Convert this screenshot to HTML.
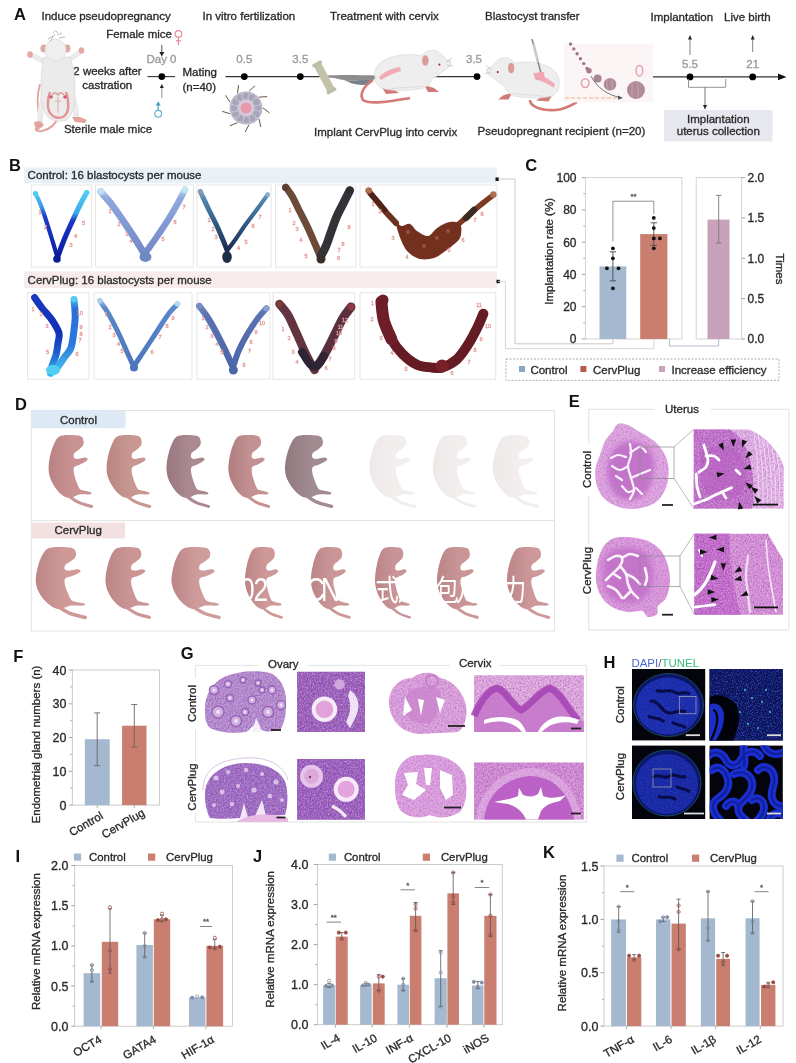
<!DOCTYPE html>
<html><head><meta charset="utf-8"><title>CervPlug figure</title>
<style>html,body{margin:0;padding:0;background:#fff;} svg{display:block;}</style>
</head><body>
<svg width="796" height="1063" viewBox="0 0 796 1063" font-family="'Liberation Sans', Arial, sans-serif">
<rect width="796" height="1063" fill="#fff"/>
<defs><filter id="spk" x="0" y="0" width="100%" height="100%" color-interpolation-filters="sRGB"><feTurbulence type="fractalNoise" baseFrequency="0.7" numOctaves="2" seed="4" result="n"/><feColorMatrix in="n" type="matrix" values="0 0 0 0 1  0 0 0 0 0.95  0 0 0 0 1  2.2 0 0 0 -1.0" result="w"/><feGaussianBlur stdDeviation="0.35"/><feComposite in2="SourceAlpha" operator="in"/></filter><filter id="spkd" x="0" y="0" width="100%" height="100%" color-interpolation-filters="sRGB"><feTurbulence type="fractalNoise" baseFrequency="0.6" numOctaves="2" seed="9" result="n"/><feColorMatrix in="n" type="matrix" values="0 0 0 0 0.4  0 0 0 0 0.1  0 0 0 0 0.5  2.2 0 0 0 -1.0" result="w"/><feGaussianBlur stdDeviation="0.35"/><feComposite in2="SourceAlpha" operator="in"/></filter><filter id="spkb" x="0" y="0" width="100%" height="100%" color-interpolation-filters="sRGB"><feTurbulence type="fractalNoise" baseFrequency="0.8" numOctaves="2" seed="7" result="n"/><feColorMatrix in="n" type="matrix" values="0 0 0 0 0.3  0 0 0 0 0.45  0 0 0 0 1  2.4 0 0 0 -1.1" result="w"/><feGaussianBlur stdDeviation="0.3"/><feComposite in2="SourceAlpha" operator="in"/></filter><filter id="blur1"><feGaussianBlur stdDeviation="0.6"/></filter><filter id="blur2" x="-20%" y="-20%" width="140%" height="140%"><feGaussianBlur stdDeviation="2.5"/></filter></defs>
<text x="14.0" y="19.6" font-size="16.5" text-anchor="start" fill="#111" font-weight="bold"  >A</text>
<text x="41.5" y="20.0" font-size="11.5" text-anchor="start" fill="#2a2a2a" font-weight="normal" stroke="#2a2a2a" stroke-width="0.32" >Induce pseudopregnancy</text>
<text x="202.5" y="20.0" font-size="11.5" text-anchor="start" fill="#2a2a2a" font-weight="normal" stroke="#2a2a2a" stroke-width="0.32" >In vitro fertilization</text>
<text x="330.0" y="20.0" font-size="11.5" text-anchor="start" fill="#2a2a2a" font-weight="normal" stroke="#2a2a2a" stroke-width="0.32" >Treatment with cervix</text>
<text x="485.0" y="20.0" font-size="11.5" text-anchor="start" fill="#2a2a2a" font-weight="normal" stroke="#2a2a2a" stroke-width="0.32" >Blastocyst transfer</text>
<text x="650.5" y="20.5" font-size="11.5" text-anchor="start" fill="#2a2a2a" font-weight="normal" stroke="#2a2a2a" stroke-width="0.32" >Implantation</text>
<text x="724.0" y="20.5" font-size="11.5" text-anchor="start" fill="#2a2a2a" font-weight="normal" stroke="#2a2a2a" stroke-width="0.32" >Live birth</text>
<text x="172.0" y="37.5" font-size="11.5" text-anchor="end" fill="#2a2a2a" font-weight="normal" stroke="#2a2a2a" stroke-width="0.32" >Female mice</text>
<circle cx="178.4" cy="33.9" r="3.3" fill="none" stroke="#e88c98" stroke-width="1.2" />
<line x1="178.4" y1="37.2" x2="178.4" y2="45.2" stroke="#e88c98" stroke-width="1.2" />
<line x1="175.8" y1="40.8" x2="181.0" y2="40.8" stroke="#e88c98" stroke-width="1.2" />
<line x1="161.8" y1="45.0" x2="161.8" y2="54.0" stroke="#444" stroke-width="0.9" />
<path d="M159.3,52 L161.8,56.5 L164.3,52 Z" fill="#222" stroke="none" stroke-width="1" />
<text x="161.5" y="63.0" font-size="11.5" text-anchor="middle" fill="#9a9a9a" font-weight="normal" stroke="#9a9a9a" stroke-width="0.32" >Day 0</text>
<text x="107.5" y="75.4" font-size="11.5" text-anchor="middle" fill="#2a2a2a" font-weight="normal" stroke="#2a2a2a" stroke-width="0.32" >2 weeks after</text>
<text x="107.3" y="89.2" font-size="11.5" text-anchor="middle" fill="#2a2a2a" font-weight="normal" stroke="#2a2a2a" stroke-width="0.32" >castration</text>
<line x1="147.5" y1="76.6" x2="175.0" y2="76.6" stroke="#333" stroke-width="1.1" />
<circle cx="161.8" cy="76.6" r="3.4" fill="#000" stroke="none" stroke-width="1" />
<line x1="161.8" y1="86.0" x2="161.8" y2="98.0" stroke="#888" stroke-width="0.9" />
<path d="M159.8,88 L161.8,84 L163.8,88 Z" fill="#222" stroke="none" stroke-width="1" />
<circle cx="158.2" cy="113.8" r="3.4" fill="none" stroke="#6aaed0" stroke-width="1.2" />
<line x1="158.2" y1="110.4" x2="158.2" y2="103.0" stroke="#5aa6c4" stroke-width="1.3" />
<path d="M155.7,105.5 L158.2,101.3 L160.7,105.5 Z" fill="#4a9cb8" stroke="none" stroke-width="1" />
<text x="182.5" y="76.0" font-size="11.5" text-anchor="start" fill="#2a2a2a" font-weight="normal" stroke="#2a2a2a" stroke-width="0.32" >Mating</text>
<text x="182.5" y="90.5" font-size="11.5" text-anchor="start" fill="#2a2a2a" font-weight="normal" stroke="#2a2a2a" stroke-width="0.32" >(n=40)</text>
<text x="108.0" y="133.2" font-size="11.5" text-anchor="middle" fill="#2a2a2a" font-weight="normal" stroke="#2a2a2a" stroke-width="0.32" >Sterile male mice</text>
<text x="314.0" y="135.5" font-size="11.5" text-anchor="start" fill="#2a2a2a" font-weight="normal" stroke="#2a2a2a" stroke-width="0.32" >Implant CervPlug into cervix</text>
<text x="477.5" y="134.5" font-size="11.5" text-anchor="start" fill="#2a2a2a" font-weight="normal" stroke="#2a2a2a" stroke-width="0.32" >Pseudopregnant recipient (n=20)</text>
<line x1="225.5" y1="76.6" x2="477.0" y2="76.6" stroke="#333" stroke-width="1.1" />
<circle cx="244.3" cy="76.6" r="3.4" fill="#000" stroke="none" stroke-width="1" />
<circle cx="300.3" cy="76.6" r="3.4" fill="#000" stroke="none" stroke-width="1" />
<text x="244.3" y="62.5" font-size="11.5" text-anchor="middle" fill="#9a9a9a" font-weight="normal" stroke="#9a9a9a" stroke-width="0.32" >0.5</text>
<text x="300.3" y="62.5" font-size="11.5" text-anchor="middle" fill="#9a9a9a" font-weight="normal" stroke="#9a9a9a" stroke-width="0.32" >3.5</text>
<circle cx="477.0" cy="76.6" r="3.4" fill="#000" stroke="none" stroke-width="1" />
<text x="474.0" y="62.5" font-size="11.5" text-anchor="middle" fill="#9a9a9a" font-weight="normal" stroke="#9a9a9a" stroke-width="0.32" >3.5</text>
<line x1="652.0" y1="76.9" x2="780.0" y2="76.9" stroke="#333" stroke-width="1.1" />
<path d="M778,73.6 L786.5,76.9 L778,80.2 Z" fill="#111" stroke="none" stroke-width="1" />
<circle cx="690.0" cy="76.9" r="3.4" fill="#000" stroke="none" stroke-width="1" />
<circle cx="752.7" cy="76.9" r="3.4" fill="#000" stroke="none" stroke-width="1" />
<text x="690.0" y="67.5" font-size="11.5" text-anchor="middle" fill="#9a9a9a" font-weight="normal" stroke="#9a9a9a" stroke-width="0.32" >5.5</text>
<text x="752.7" y="67.5" font-size="11.5" text-anchor="middle" fill="#9a9a9a" font-weight="normal" stroke="#9a9a9a" stroke-width="0.32" >21</text>
<line x1="690.0" y1="55.0" x2="690.0" y2="38.0" stroke="#777" stroke-width="0.9" />
<path d="M688,39.5 L690,35 L692,39.5 Z" fill="#222" stroke="none" stroke-width="1" />
<line x1="752.7" y1="52.0" x2="752.7" y2="38.0" stroke="#777" stroke-width="0.9" />
<path d="M750.7,39.5 L752.7,35 L754.7,39.5 Z" fill="#222" stroke="none" stroke-width="1" />
<path d="M688.5,79 L688.5,87.3 L725.7,87.3 L725.7,79" fill="none" stroke="#888" stroke-width="0.9" />
<line x1="705.0" y1="87.3" x2="705.0" y2="106.0" stroke="#666" stroke-width="0.9" />
<path d="M703,105 L705,109.5 L707,105 Z" fill="#222" stroke="none" stroke-width="1" />
<rect x="664.0" y="110.0" width="108.5" height="31.5" fill="#e7e7ef" stroke="none" stroke-width="1" />
<text x="718.3" y="122.7" font-size="11.5" text-anchor="middle" fill="#2a2a2a" font-weight="normal" stroke="#2a2a2a" stroke-width="0.32" >Implantation</text>
<text x="718.3" y="135.3" font-size="11.5" text-anchor="middle" fill="#2a2a2a" font-weight="normal" stroke="#2a2a2a" stroke-width="0.32" >uterus collection</text>
<path d="M40,84 C37,95 37,108 40,118 C42,124 40,128 36,131" fill="none" stroke="#e2a49e" stroke-width="1.8" />
<path d="M58,117 C56,124 50,129 42,131 C36,132 34,129 38,127" fill="none" stroke="#e2a49e" stroke-width="2.2" />
<path d="M44,96 C41,106 40,115 40,123" fill="none" stroke="#ebebeb" stroke-width="6" stroke-linecap="round"/>
<path d="M72,96 C75,104 76,110 76,116" fill="none" stroke="#ebebeb" stroke-width="6" stroke-linecap="round"/>
<path d="M34,122 L40,121 L44,125 L41,128 L35,127 Z" fill="#e2a49e" stroke="none" stroke-width="1" />
<path d="M72,117 L80,117 L87,120 L85,123 L75,122 Z" fill="#e2a49e" stroke="none" stroke-width="1" />
<path d="M45,62 C40,59 35,57 30.5,55" fill="none" stroke="#ebebeb" stroke-width="5.5" stroke-linecap="round"/>
<path d="M67,61 C72,58 77,54 80.5,51.5" fill="none" stroke="#ebebeb" stroke-width="5.5" stroke-linecap="round"/>
<ellipse cx="30" cy="54.5" rx="2.8" ry="3.2" fill="#e6a8a2"/>
<ellipse cx="81.5" cy="50.5" rx="2.8" ry="3.2" fill="#e6a8a2"/>
<path d="M44,57 C41,68 41,80 41,92 C41,104 44,114 50,119 C56,122 64,122 68,119 C73,114 75,104 75,92 C75,80 74,68 70,57 Z" fill="#ebebeb" stroke="#d4d4d4" stroke-width="0.6" />
<ellipse cx="43.8" cy="48.5" rx="3.4" ry="4" fill="#dcaaa2"/>
<ellipse cx="67" cy="48.5" rx="3.4" ry="4" fill="#dcaaa2"/>
<ellipse cx="55.5" cy="50" rx="10.5" ry="11" fill="#efefef" stroke="#d8d8d8" stroke-width="0.6"/>
<path d="M48,39 L53,36 M50,41 L55,34 M57,35 L62,33 M59,38 L65,37 M53,33 L55.5,30.5 L58,33" fill="none" stroke="#a8a8a8" stroke-width="0.8" />
<path d="M50,92 C47,100 47,110 51,114 C55,119 63,119 66,114 C69,110 69,100 66,92" fill="none" stroke="#e29494" stroke-width="2.4" />
<path d="M52,95 C54,92 56,92 58,95 C60,92 62,92 64,95" fill="none" stroke="#e29494" stroke-width="1.4" />
<path d="M58,97 L58,113 M55,101 L61,101" fill="none" stroke="#e3a8a8" stroke-width="1" />
<circle cx="51.0" cy="97.0" r="1.8" fill="#d25c6a" stroke="none" stroke-width="1" />
<circle cx="65.0" cy="97.0" r="1.8" fill="#d25c6a" stroke="none" stroke-width="1" />
<line x1="263.0" y1="108.0" x2="269.5" y2="113.0" stroke="#5a3a2a" stroke-width="0.9" />
<line x1="259.0" y1="118.9" x2="260.8" y2="126.9" stroke="#5a3a2a" stroke-width="0.9" />
<line x1="249.0" y1="124.7" x2="245.2" y2="132.0" stroke="#5a3a2a" stroke-width="0.9" />
<line x1="237.5" y1="122.7" x2="229.9" y2="125.8" stroke="#5a3a2a" stroke-width="0.9" />
<line x1="230.0" y1="113.8" x2="222.2" y2="111.3" stroke="#5a3a2a" stroke-width="0.9" />
<line x1="230.0" y1="102.2" x2="225.6" y2="95.3" stroke="#5a3a2a" stroke-width="0.9" />
<line x1="237.5" y1="93.3" x2="238.6" y2="85.2" stroke="#5a3a2a" stroke-width="0.9" />
<line x1="249.0" y1="91.3" x2="255.0" y2="85.7" stroke="#5a3a2a" stroke-width="0.9" />
<line x1="259.0" y1="97.1" x2="267.2" y2="96.7" stroke="#5a3a2a" stroke-width="0.9" />
<circle cx="246.0" cy="108.0" r="16.5" fill="#b4b1c4" stroke="none" stroke-width="1" />
<circle cx="258.0" cy="108.0" r="4.0" fill="#a8a4bc" stroke="#d8d6e2" stroke-width="0.6" />
<circle cx="256.4" cy="114.0" r="4.0" fill="#a8a4bc" stroke="#d8d6e2" stroke-width="0.6" />
<circle cx="252.0" cy="118.4" r="4.0" fill="#a8a4bc" stroke="#d8d6e2" stroke-width="0.6" />
<circle cx="246.0" cy="120.0" r="4.0" fill="#a8a4bc" stroke="#d8d6e2" stroke-width="0.6" />
<circle cx="240.0" cy="118.4" r="4.0" fill="#a8a4bc" stroke="#d8d6e2" stroke-width="0.6" />
<circle cx="235.6" cy="114.0" r="4.0" fill="#a8a4bc" stroke="#d8d6e2" stroke-width="0.6" />
<circle cx="234.0" cy="108.0" r="4.0" fill="#a8a4bc" stroke="#d8d6e2" stroke-width="0.6" />
<circle cx="235.6" cy="102.0" r="4.0" fill="#a8a4bc" stroke="#d8d6e2" stroke-width="0.6" />
<circle cx="240.0" cy="97.6" r="4.0" fill="#a8a4bc" stroke="#d8d6e2" stroke-width="0.6" />
<circle cx="246.0" cy="96.0" r="4.0" fill="#a8a4bc" stroke="#d8d6e2" stroke-width="0.6" />
<circle cx="252.0" cy="97.6" r="4.0" fill="#a8a4bc" stroke="#d8d6e2" stroke-width="0.6" />
<circle cx="256.4" cy="102.0" r="4.0" fill="#a8a4bc" stroke="#d8d6e2" stroke-width="0.6" />
<circle cx="246.0" cy="108.0" r="8.0" fill="#d9c8d8" stroke="none" stroke-width="1" />
<circle cx="246.0" cy="108.0" r="5.5" fill="#e79aae" stroke="none" stroke-width="1" />
<path d="M327,75.5 C340,74.5 360,75 376,75.5 L376,79 C365,80 352,81 344,80 C338,79 332,77.5 327,77 Z" fill="#8c8c8c" stroke="none" stroke-width="1" />
<path d="M344,80 C352,81 362,80 374,79 L370,84 C364,85.5 358,85 352,83.5 Z" fill="#7a8088" stroke="none" stroke-width="1" />
<g transform="translate(324.3,77.4) rotate(62)"><rect x="-15.6" y="-4" width="31.2" height="8" fill="#c3c3ab"/><rect x="-17" y="-5.2" width="3.5" height="10.4" rx="1.2" fill="#bdbda4"/><rect x="13.5" y="-5.2" width="3.5" height="10.4" rx="1.2" fill="#bdbda4"/></g>
<path d="M373,80 C364,86 359,94 363,100 C370,105 392,101 410,98" fill="none" stroke="#d27a78" stroke-width="2.6"/>
<path d="M381,86 L393,89 L399,93 L386,94 Z" fill="#d27a78"/>
<path d="M424,85 L434,88 L439,92 L428,92 Z" fill="#d27a78"/>
<path d="M375,78 C373,68 380,60 392,57 C402,54 414,54 421,56 C425,51 431,49 437,51 C443,55 447,60 451,64 C450,67 447,69 443,71 C440,74 436,77 432,79 C430,84 427,88 419,89 C405,91 389,91 381,88 C377,85 375,82 375,78 Z" fill="#eeeeee" stroke="#d8d8d8" stroke-width="0.7"/>
<path d="M390,89 C400,87 412,88 422,86" fill="none" stroke="#dcdcdc" stroke-width="1"/>
<ellipse cx="425.3" cy="60.5" rx="3.3" ry="5.2" fill="#dc9a98"/>
<circle cx="439.4" cy="64.6" r="1.1" fill="#9a3040"/>
<path d="M379,77 C384,72 392,68 400,67 L401,71 C394,73 387,76 381,80 Z" fill="#f2aab4"/>
<path d="M446,62 L452,58 M447,65 L453,66 M449,60 L451,63" stroke="#aaa" stroke-width="0.6"/>
<path d="M530,100 C530,106 540,111 556,110 C566,109 572,105 577,102" fill="none" stroke="#d27a74" stroke-width="2.6" />
<g transform="translate(915.2,7.5) scale(-0.95,1)">
<path d="M381,86 L393,89 L399,93 L386,94 Z" fill="#d27a78"/>
<path d="M424,85 L434,88 L439,92 L428,92 Z" fill="#d27a78"/>
<path d="M375,78 C373,68 380,60 392,57 C402,54 414,54 421,56 C425,51 431,49 437,51 C443,55 447,60 451,64 C450,67 447,69 443,71 C440,74 436,77 432,79 C430,84 427,88 419,89 C405,91 389,91 381,88 C377,85 375,82 375,78 Z" fill="#eeeeee" stroke="#d8d8d8" stroke-width="0.7"/>
<path d="M390,89 C400,87 412,88 422,86" fill="none" stroke="#dcdcdc" stroke-width="1"/>
<ellipse cx="425.3" cy="60.5" rx="3.3" ry="5.2" fill="#dc9a98"/>
<circle cx="439.4" cy="64.6" r="1.1" fill="#9a3040"/>
<path d="M379,77 C384,72 392,68 400,67 L401,71 C394,73 387,76 381,80 Z" fill="#f2aab4"/>
<path d="M446,62 L452,58 M447,65 L453,66 M449,60 L451,63" stroke="#aaa" stroke-width="0.6"/>
</g>
<line x1="532.0" y1="39.0" x2="541.0" y2="73.0" stroke="#8a8a8a" stroke-width="1.6" />
<line x1="533.5" y1="44.0" x2="538.0" y2="62.0" stroke="#c9c9c9" stroke-width="2.6" />
<path d="M533,73 L544,72 L545,81 L536,80 Z" fill="#f2a6b2" stroke="none" stroke-width="1" />
<rect x="563.7" y="43.6" width="89.3" height="58.8" fill="#fcf5f5" stroke="none" stroke-width="1" />
<circle cx="570.5" cy="44.0" r="1.7" fill="#a07486" stroke="none" stroke-width="1" />
<circle cx="573.8" cy="48.9" r="1.7" fill="#a07486" stroke="none" stroke-width="1" />
<circle cx="577.1" cy="53.8" r="1.7" fill="#a07486" stroke="none" stroke-width="1" />
<circle cx="580.4" cy="58.7" r="1.7" fill="#a07486" stroke="none" stroke-width="1" />
<circle cx="583.7" cy="63.6" r="1.7" fill="#a07486" stroke="none" stroke-width="1" />
<circle cx="587.0" cy="68.5" r="1.7" fill="#a07486" stroke="none" stroke-width="1" />
<circle cx="589.0" cy="70.7" r="2.7" fill="#a57c8c" stroke="none" stroke-width="1" />
<circle cx="597.6" cy="78.6" r="4.0" fill="#a98492" stroke="none" stroke-width="1" />
<ellipse cx="585.2" cy="83.1" rx="3.8" ry="4.3" fill="none" stroke="#e3a2b6" stroke-width="1.5"/>
<circle cx="610.0" cy="84.3" r="6.3" fill="#b08a99" stroke="none" stroke-width="1" />
<circle cx="636.0" cy="90.0" r="9.0" fill="#b08a99" stroke="none" stroke-width="1" />
<line x1="607.0" y1="79.0" x2="607.0" y2="90.0" stroke="#c9aab6" stroke-width="0.8" />
<line x1="612.0" y1="79.0" x2="612.0" y2="90.0" stroke="#c9aab6" stroke-width="0.8" />
<line x1="632.0" y1="82.0" x2="632.0" y2="98.0" stroke="#c9aab6" stroke-width="0.8" />
<line x1="638.0" y1="81.0" x2="638.0" y2="99.0" stroke="#c9aab6" stroke-width="0.8" />
<ellipse cx="639.4" cy="70.7" rx="3.3" ry="5.3" fill="none" stroke="#e3a2b6" stroke-width="1.5"/>
<path d="M591,76 C597,88 608,95 620,97.5" fill="none" stroke="#555" stroke-width="0.8" />
<path d="M618,95.5 L623,98 L618,99.8 Z" fill="#555" stroke="none" stroke-width="1" />
<line x1="565.0" y1="98.0" x2="617.0" y2="98.0" stroke="#f0b080" stroke-width="1.2" stroke-dasharray="4,2"/>
<text x="9.0" y="170.7" font-size="16.5" text-anchor="start" fill="#111" font-weight="bold"  >B</text>
<rect x="24.0" y="167.6" width="473.0" height="15.6" fill="#e9f1f7" stroke="none" stroke-width="1" />
<text x="27.6" y="179.3" font-size="11.5" text-anchor="start" fill="#2a2a2a" font-weight="normal" stroke="#2a2a2a" stroke-width="0.32" >Control: 16 blastocysts per mouse</text>
<rect x="24.0" y="271.3" width="473.0" height="16.8" fill="#f8ebeb" stroke="none" stroke-width="1" />
<text x="27.6" y="284.4" font-size="11.5" text-anchor="start" fill="#2a2a2a" font-weight="normal" stroke="#2a2a2a" stroke-width="0.32" >CervPlug: 16 blastocysts per mouse</text>
<rect x="31.4" y="185.0" width="60.3" height="82.0" fill="#fff" stroke="#e6e6e6" stroke-width="1" />
<rect x="95.5" y="185.0" width="98.0" height="82.0" fill="#fff" stroke="#e6e6e6" stroke-width="1" />
<rect x="197.0" y="185.0" width="74.0" height="82.0" fill="#fff" stroke="#e6e6e6" stroke-width="1" />
<rect x="275.5" y="185.0" width="80.5" height="82.0" fill="#fff" stroke="#e6e6e6" stroke-width="1" />
<rect x="360.0" y="185.0" width="137.0" height="82.0" fill="#fff" stroke="#e6e6e6" stroke-width="1" />
<rect x="27.6" y="292.7" width="61.4" height="86.5" fill="#fff" stroke="#e6e6e6" stroke-width="1" />
<rect x="94.0" y="292.7" width="98.0" height="86.5" fill="#fff" stroke="#e6e6e6" stroke-width="1" />
<rect x="197.0" y="292.7" width="73.0" height="86.5" fill="#fff" stroke="#e6e6e6" stroke-width="1" />
<rect x="273.0" y="292.7" width="81.6" height="86.5" fill="#fff" stroke="#e6e6e6" stroke-width="1" />
<rect x="360.0" y="292.7" width="135.8" height="86.5" fill="#fff" stroke="#e6e6e6" stroke-width="1" />
<linearGradient id="vg1" gradientUnits="userSpaceOnUse" x1="0" y1="193" x2="0" y2="260"><stop offset="0" stop-color="#4ccdf2"/><stop offset="0.2" stop-color="#3a9ae6"/><stop offset="0.35" stop-color="#1c3ccc"/><stop offset="1" stop-color="#0b1c9c"/></linearGradient>
<path d="M35.5,193.7 C36.2,195.2 38.4,199.1 40.0,203.0 C41.6,206.9 43.2,211.5 45.0,217.0 C46.8,222.5 49.0,229.5 51.0,236.0 C53.0,242.5 56.0,252.7 57.0,256.0" fill="none" stroke="url(#vg1)" stroke-width="4.2" stroke-linecap="round" stroke-linejoin="round" />
<linearGradient id="vg2" gradientUnits="userSpaceOnUse" x1="0" y1="193" x2="0" y2="260"><stop offset="0" stop-color="#4ccdf2"/><stop offset="0.3" stop-color="#3aa8ea"/><stop offset="0.42" stop-color="#1a34c4"/><stop offset="1" stop-color="#0b1c9c"/></linearGradient>
<path d="M86.7,192.6 C85.6,194.7 82.5,200.1 80.0,205.0 C77.5,209.9 74.7,216.2 72.0,222.0 C69.3,227.8 66.3,234.3 64.0,240.0 C61.7,245.7 59.0,253.3 58.0,256.0" fill="none" stroke="url(#vg2)" stroke-width="5.2" stroke-linecap="round" stroke-linejoin="round" />
<circle cx="57.0" cy="259.0" r="3.8" fill="#0a1c98" stroke="none" stroke-width="1" />
<circle cx="35.5" cy="193.5" r="2.6" fill="#4ccdf2" stroke="none" stroke-width="1" />
<circle cx="86.7" cy="192.6" r="2.6" fill="#4ccdf2" stroke="none" stroke-width="1" />
<text x="40.0" y="214.0" font-size="5.5" text-anchor="middle" fill="#e49a96" font-weight="normal" stroke="#e49a96" stroke-width="0.32" >1</text>
<text x="45.5" y="229.0" font-size="5.5" text-anchor="middle" fill="#e49a96" font-weight="normal" stroke="#e49a96" stroke-width="0.32" >2</text>
<text x="71.0" y="246.5" font-size="5.5" text-anchor="middle" fill="#e49a96" font-weight="normal" stroke="#e49a96" stroke-width="0.32" >3</text>
<text x="75.5" y="237.5" font-size="5.5" text-anchor="middle" fill="#e49a96" font-weight="normal" stroke="#e49a96" stroke-width="0.32" >4</text>
<text x="83.5" y="225.0" font-size="5.5" text-anchor="middle" fill="#e49a96" font-weight="normal" stroke="#e49a96" stroke-width="0.32" >5</text>
<linearGradient id="vg3" gradientUnits="userSpaceOnUse" x1="0" y1="189" x2="0" y2="262"><stop offset="0" stop-color="#b8def2"/><stop offset="0.12" stop-color="#90a8dc"/><stop offset="0.6" stop-color="#7d94d0"/><stop offset="1" stop-color="#6e84c0"/></linearGradient>
<path d="M100.6,191.5 C102.5,193.8 107.8,199.4 112.0,205.0 C116.2,210.6 121.5,218.3 126.0,225.0 C130.5,231.7 135.8,239.8 139.0,245.0 C142.2,250.2 144.4,254.2 145.5,256.0" fill="none" stroke="url(#vg3)" stroke-width="7" stroke-linecap="round" stroke-linejoin="round" />
<path d="M185.0,189.4 C183.8,191.7 180.8,197.9 178.0,203.0 C175.2,208.1 171.7,214.2 168.0,220.0 C164.3,225.8 159.7,232.7 156.0,238.0 C152.3,243.3 147.7,249.7 146.0,252.0" fill="none" stroke="url(#vg3)" stroke-width="6.5" stroke-linecap="round" stroke-linejoin="round" />
<ellipse cx="145.5" cy="257" rx="6" ry="5" fill="#7088c2"/>
<circle cx="101.0" cy="191.5" r="3.2" fill="#bde0f2" stroke="none" stroke-width="1" />
<circle cx="185.0" cy="190.0" r="3.2" fill="#bde8f6" stroke="none" stroke-width="1" />
<text x="110.0" y="213.0" font-size="5.5" text-anchor="middle" fill="#e49a96" font-weight="normal" stroke="#e49a96" stroke-width="0.32" >1</text>
<text x="119.0" y="226.0" font-size="5.5" text-anchor="middle" fill="#e49a96" font-weight="normal" stroke="#e49a96" stroke-width="0.32" >2</text>
<text x="127.0" y="236.0" font-size="5.5" text-anchor="middle" fill="#e49a96" font-weight="normal" stroke="#e49a96" stroke-width="0.32" >3</text>
<text x="131.0" y="243.0" font-size="5.5" text-anchor="middle" fill="#e49a96" font-weight="normal" stroke="#e49a96" stroke-width="0.32" >4</text>
<text x="163.0" y="241.0" font-size="5.5" text-anchor="middle" fill="#e49a96" font-weight="normal" stroke="#e49a96" stroke-width="0.32" >5</text>
<text x="175.0" y="224.0" font-size="5.5" text-anchor="middle" fill="#e49a96" font-weight="normal" stroke="#e49a96" stroke-width="0.32" >6</text>
<text x="184.0" y="209.0" font-size="5.5" text-anchor="middle" fill="#e49a96" font-weight="normal" stroke="#e49a96" stroke-width="0.32" >7</text>
<linearGradient id="vg4" gradientUnits="userSpaceOnUse" x1="0" y1="191" x2="0" y2="262"><stop offset="0" stop-color="#8aa0b6"/><stop offset="0.12" stop-color="#4f86ae"/><stop offset="0.5" stop-color="#2e5680"/><stop offset="0.8" stop-color="#1d3052"/><stop offset="1" stop-color="#1b2a44"/></linearGradient>
<path d="M200.3,191.5 C201.6,194.2 205.4,202.6 208.0,208.0 C210.6,213.4 213.5,218.7 216.0,224.0 C218.5,229.3 221.2,235.7 223.0,240.0 C224.8,244.3 226.3,248.3 227.0,250.0" fill="none" stroke="url(#vg4)" stroke-width="5" stroke-linecap="round" stroke-linejoin="round" />
<path d="M267.6,194.7 C266.0,196.9 261.6,203.1 258.0,208.0 C254.4,212.9 249.8,218.7 246.0,224.0 C242.2,229.3 238.1,235.7 235.0,240.0 C231.9,244.3 228.8,248.3 227.5,250.0" fill="none" stroke="url(#vg4)" stroke-width="4.2" stroke-linecap="round" stroke-linejoin="round" />
<ellipse cx="227" cy="257" rx="4.8" ry="6" fill="#1c2d48"/>
<circle cx="200.5" cy="191.5" r="2.4" fill="#8a9ab0" stroke="none" stroke-width="1" />
<circle cx="267.6" cy="194.7" r="2.4" fill="#8ab0c8" stroke="none" stroke-width="1" />
<text x="209.0" y="222.0" font-size="5.5" text-anchor="middle" fill="#e49a96" font-weight="normal" stroke="#e49a96" stroke-width="0.32" >1</text>
<text x="213.0" y="231.0" font-size="5.5" text-anchor="middle" fill="#e49a96" font-weight="normal" stroke="#e49a96" stroke-width="0.32" >2</text>
<text x="216.0" y="239.0" font-size="5.5" text-anchor="middle" fill="#e49a96" font-weight="normal" stroke="#e49a96" stroke-width="0.32" >3</text>
<text x="238.5" y="249.5" font-size="5.5" text-anchor="middle" fill="#e49a96" font-weight="normal" stroke="#e49a96" stroke-width="0.32" >4</text>
<text x="246.0" y="244.0" font-size="5.5" text-anchor="middle" fill="#e49a96" font-weight="normal" stroke="#e49a96" stroke-width="0.32" >5</text>
<text x="253.0" y="228.0" font-size="5.5" text-anchor="middle" fill="#e49a96" font-weight="normal" stroke="#e49a96" stroke-width="0.32" >6</text>
<text x="260.0" y="219.0" font-size="5.5" text-anchor="middle" fill="#e49a96" font-weight="normal" stroke="#e49a96" stroke-width="0.32" >7</text>
<path d="M285.8,187.3 C286.8,188.8 289.6,191.9 292.0,196.0 C294.4,200.1 297.3,206.7 300.0,212.0 C302.7,217.3 305.5,222.7 308.0,228.0 C310.5,233.3 312.8,239.0 315.0,244.0 C317.2,249.0 320.0,255.7 321.0,258.0" fill="none" stroke="#6b4a38" stroke-width="7" stroke-linecap="round" stroke-linejoin="round" />
<path d="M349.8,190.5 C348.8,192.4 346.1,197.8 344.0,202.0 C341.9,206.2 339.2,211.0 337.0,216.0 C334.8,221.0 332.8,227.0 331.0,232.0 C329.2,237.0 327.7,242.0 326.0,246.0 C324.3,250.0 321.8,254.3 321.0,256.0" fill="none" stroke="#343236" stroke-width="8.5" stroke-linecap="round" stroke-linejoin="round" />
<circle cx="285.5" cy="187.5" r="3.5" fill="#5a4030" stroke="none" stroke-width="1" />
<circle cx="349.8" cy="190.0" r="3.6" fill="#2e2c30" stroke="none" stroke-width="1" />
<circle cx="321.0" cy="259.0" r="4.5" fill="#3a2e2a" stroke="none" stroke-width="1" />
<text x="290.0" y="212.0" font-size="5.5" text-anchor="middle" fill="#e49a96" font-weight="normal" stroke="#e49a96" stroke-width="0.32" >1</text>
<text x="294.0" y="225.0" font-size="5.5" text-anchor="middle" fill="#e49a96" font-weight="normal" stroke="#e49a96" stroke-width="0.32" >2</text>
<text x="297.0" y="231.0" font-size="5.5" text-anchor="middle" fill="#e49a96" font-weight="normal" stroke="#e49a96" stroke-width="0.32" >3</text>
<text x="301.0" y="242.0" font-size="5.5" text-anchor="middle" fill="#e49a96" font-weight="normal" stroke="#e49a96" stroke-width="0.32" >4</text>
<text x="306.0" y="258.0" font-size="5.5" text-anchor="middle" fill="#e49a96" font-weight="normal" stroke="#e49a96" stroke-width="0.32" >5</text>
<text x="338.5" y="260.0" font-size="5.5" text-anchor="middle" fill="#e49a96" font-weight="normal" stroke="#e49a96" stroke-width="0.32" >6</text>
<text x="339.0" y="252.0" font-size="5.5" text-anchor="middle" fill="#e49a96" font-weight="normal" stroke="#e49a96" stroke-width="0.32" >7</text>
<text x="343.0" y="246.0" font-size="5.5" text-anchor="middle" fill="#e49a96" font-weight="normal" stroke="#e49a96" stroke-width="0.32" >8</text>
<text x="349.0" y="229.0" font-size="5.5" text-anchor="middle" fill="#e49a96" font-weight="normal" stroke="#e49a96" stroke-width="0.32" >9</text>
<path d="M368.7,191.2 C369.9,192.7 373.3,196.7 376.0,200.0 C378.7,203.3 381.7,207.2 385.0,211.0 C388.3,214.8 394.2,221.0 396.0,223.0" fill="none" stroke="#6e3220" stroke-width="6" stroke-linecap="round" stroke-linejoin="round" />
<path d="M449.0,232.0 C451.0,230.3 457.2,225.3 461.0,222.0 C464.8,218.7 468.3,215.2 472.0,212.0 C475.7,208.8 479.4,205.9 483.0,203.0 C486.6,200.1 491.7,196.2 493.4,194.8" fill="none" stroke="#7c3a22" stroke-width="5.5" stroke-linecap="round" stroke-linejoin="round" />
<path d="M396.0,223.0 C396.2,220.7 399.7,225.8 402.0,226.0 C404.3,226.2 407.5,223.2 410.0,224.0 C412.5,224.8 414.0,229.0 417.0,231.0 C420.0,233.0 424.8,236.3 428.0,236.0 C431.2,235.7 433.0,231.2 436.0,229.0 C439.0,226.8 442.7,224.2 446.0,223.0 C449.3,221.8 453.5,221.5 456.0,222.0 C458.5,222.5 460.3,223.3 461.0,226.0 C461.7,228.7 461.5,234.7 460.0,238.0 C458.5,241.3 454.7,243.7 452.0,246.0 C449.3,248.3 447.0,250.0 444.0,252.0 C441.0,254.0 438.0,256.8 434.0,258.0 C430.0,259.2 424.3,260.0 420.0,259.0 C415.7,258.0 411.2,255.2 408.0,252.0 C404.8,248.8 403.0,244.8 401.0,240.0 C399.0,235.2 395.8,225.3 396.0,223.0Z" fill="#74301f" stroke="none" stroke-width="1" />
<circle cx="408.0" cy="232.0" r="2.0" fill="#a86a5a" stroke="none" stroke-width="1" opacity="0.6"/>
<circle cx="424.0" cy="246.0" r="2.0" fill="#a86a5a" stroke="none" stroke-width="1" opacity="0.6"/>
<circle cx="437.0" cy="238.0" r="2.0" fill="#a86a5a" stroke="none" stroke-width="1" opacity="0.6"/>
<circle cx="448.0" cy="231.0" r="2.0" fill="#a86a5a" stroke="none" stroke-width="1" opacity="0.6"/>
<path d="M370.0,193.0 C371.3,194.5 375.5,199.2 378.0,202.0 C380.5,204.8 383.8,208.7 385.0,210.0" fill="none" stroke="#4d2218" stroke-width="5" stroke-linecap="round" stroke-linejoin="round" />
<path d="M466.0,218.0 C467.3,216.7 472.7,211.3 474.0,210.0" fill="none" stroke="#3a2a22" stroke-width="6.5" stroke-linecap="round" stroke-linejoin="round" />
<circle cx="368.7" cy="190.5" r="3.3" fill="#b07050" stroke="none" stroke-width="1" />
<circle cx="493.4" cy="194.5" r="3.2" fill="#b07050" stroke="none" stroke-width="1" />
<text x="373.0" y="206.0" font-size="5.5" text-anchor="middle" fill="#e49a96" font-weight="normal" stroke="#e49a96" stroke-width="0.32" >1</text>
<text x="380.0" y="213.0" font-size="5.5" text-anchor="middle" fill="#e49a96" font-weight="normal" stroke="#e49a96" stroke-width="0.32" >2</text>
<text x="393.0" y="240.0" font-size="5.5" text-anchor="middle" fill="#e49a96" font-weight="normal" stroke="#e49a96" stroke-width="0.32" >3</text>
<text x="407.0" y="258.5" font-size="5.5" text-anchor="middle" fill="#e49a96" font-weight="normal" stroke="#e49a96" stroke-width="0.32" >4</text>
<text x="449.0" y="251.5" font-size="5.5" text-anchor="middle" fill="#e49a96" font-weight="normal" stroke="#e49a96" stroke-width="0.32" >5</text>
<text x="463.0" y="242.0" font-size="5.5" text-anchor="middle" fill="#e49a96" font-weight="normal" stroke="#e49a96" stroke-width="0.32" >6</text>
<text x="475.0" y="222.0" font-size="5.5" text-anchor="middle" fill="#e49a96" font-weight="normal" stroke="#e49a96" stroke-width="0.32" >7</text>
<text x="482.0" y="216.0" font-size="5.5" text-anchor="middle" fill="#e49a96" font-weight="normal" stroke="#e49a96" stroke-width="0.32" >8</text>
<linearGradient id="vg5" gradientUnits="userSpaceOnUse" x1="0" y1="297" x2="0" y2="375"><stop offset="0" stop-color="#1a38c0"/><stop offset="0.45" stop-color="#1030b4"/><stop offset="0.7" stop-color="#1e5ad0"/><stop offset="1" stop-color="#3ab8ee"/></linearGradient>
<path d="M34.6,297.5 C35.8,299.2 39.1,304.2 42.0,308.0 C44.9,311.8 49.2,315.8 52.0,320.0 C54.8,324.2 58.0,329.2 59.0,333.0 C60.0,336.8 58.5,339.3 58.0,343.0 C57.5,346.7 57.0,351.2 56.0,355.0 C55.0,358.8 52.9,362.9 52.0,366.0 C51.1,369.1 50.8,372.1 50.6,373.3" fill="none" stroke="url(#vg5)" stroke-width="7" stroke-linecap="round" stroke-linejoin="round" />
<linearGradient id="vg6" gradientUnits="userSpaceOnUse" x1="0" y1="297" x2="0" y2="375"><stop offset="0" stop-color="#58ccf2"/><stop offset="0.15" stop-color="#2a70d8"/><stop offset="0.6" stop-color="#2a78dc"/><stop offset="1" stop-color="#48c8f2"/></linearGradient>
<path d="M74.0,299.6 C74.2,302.3 75.2,310.5 75.2,315.6 C75.2,320.7 74.7,324.6 74.0,330.0 C73.3,335.4 72.7,343.0 71.0,347.7 C69.3,352.4 66.7,354.1 64.0,358.0 C61.3,361.9 56.5,368.8 55.0,371.0" fill="none" stroke="url(#vg6)" stroke-width="7" stroke-linecap="round" stroke-linejoin="round" />
<ellipse cx="53" cy="370" rx="7" ry="5" fill="#50cef2"/>
<circle cx="34.6" cy="297.5" r="2.8" fill="#1a3ac0" stroke="none" stroke-width="1" />
<circle cx="74.0" cy="299.5" r="2.8" fill="#58ccf2" stroke="none" stroke-width="1" />
<text x="33.0" y="310.5" font-size="5.5" text-anchor="middle" fill="#e49a96" font-weight="normal" stroke="#e49a96" stroke-width="0.32" >1</text>
<text x="41.0" y="316.0" font-size="5.5" text-anchor="middle" fill="#e49a96" font-weight="normal" stroke="#e49a96" stroke-width="0.32" >2</text>
<text x="47.0" y="328.0" font-size="5.5" text-anchor="middle" fill="#e49a96" font-weight="normal" stroke="#e49a96" stroke-width="0.32" >3</text>
<text x="47.5" y="353.5" font-size="5.5" text-anchor="middle" fill="#e49a96" font-weight="normal" stroke="#e49a96" stroke-width="0.32" >5</text>
<text x="77.0" y="356.0" font-size="5.5" text-anchor="middle" fill="#e49a96" font-weight="normal" stroke="#e49a96" stroke-width="0.32" >6</text>
<text x="80.0" y="342.0" font-size="5.5" text-anchor="middle" fill="#e49a96" font-weight="normal" stroke="#e49a96" stroke-width="0.32" >7</text>
<text x="81.0" y="336.0" font-size="5.5" text-anchor="middle" fill="#e49a96" font-weight="normal" stroke="#e49a96" stroke-width="0.32" >8</text>
<text x="81.0" y="329.0" font-size="5.5" text-anchor="middle" fill="#e49a96" font-weight="normal" stroke="#e49a96" stroke-width="0.32" >9</text>
<text x="80.0" y="314.5" font-size="5.5" text-anchor="middle" fill="#e49a96" font-weight="normal" stroke="#e49a96" stroke-width="0.32" >10</text>
<linearGradient id="vg7" gradientUnits="userSpaceOnUse" x1="0" y1="300" x2="0" y2="370"><stop offset="0" stop-color="#a8c8e4"/><stop offset="0.1" stop-color="#5a88c8"/><stop offset="1" stop-color="#4a76bc"/></linearGradient>
<path d="M99.8,300.7 C101.2,302.8 105.0,307.8 108.0,313.0 C111.0,318.2 114.8,325.5 118.0,332.0 C121.2,338.5 124.5,346.5 127.0,352.0 C129.5,357.5 132.0,362.8 133.0,365.0" fill="none" stroke="url(#vg7)" stroke-width="5" stroke-linecap="round" stroke-linejoin="round" />
<path d="M177.7,303.9 C176.4,305.2 172.7,308.6 170.0,312.0 C167.3,315.4 165.0,319.0 161.7,324.0 C158.4,329.0 153.9,336.0 150.0,342.0 C146.1,348.0 140.7,356.0 138.0,360.0 C135.3,364.0 134.7,365.0 134.0,366.0" fill="none" stroke="url(#vg7)" stroke-width="5" stroke-linecap="round" stroke-linejoin="round" />
<circle cx="134.0" cy="367.5" r="4.0" fill="#4a75b8" stroke="none" stroke-width="1" />
<circle cx="99.8" cy="300.7" r="2.8" fill="#b0cce6" stroke="none" stroke-width="1" />
<circle cx="177.5" cy="303.8" r="2.8" fill="#b0dcee" stroke="none" stroke-width="1" />
<text x="106.0" y="316.0" font-size="5.5" text-anchor="middle" fill="#e49a96" font-weight="normal" stroke="#e49a96" stroke-width="0.32" >1</text>
<text x="110.0" y="329.0" font-size="5.5" text-anchor="middle" fill="#e49a96" font-weight="normal" stroke="#e49a96" stroke-width="0.32" >2</text>
<text x="114.0" y="337.0" font-size="5.5" text-anchor="middle" fill="#e49a96" font-weight="normal" stroke="#e49a96" stroke-width="0.32" >3</text>
<text x="118.5" y="346.0" font-size="5.5" text-anchor="middle" fill="#e49a96" font-weight="normal" stroke="#e49a96" stroke-width="0.32" >4</text>
<text x="122.0" y="353.0" font-size="5.5" text-anchor="middle" fill="#e49a96" font-weight="normal" stroke="#e49a96" stroke-width="0.32" >5</text>
<text x="152.0" y="354.0" font-size="5.5" text-anchor="middle" fill="#e49a96" font-weight="normal" stroke="#e49a96" stroke-width="0.32" >6</text>
<text x="160.0" y="339.0" font-size="5.5" text-anchor="middle" fill="#e49a96" font-weight="normal" stroke="#e49a96" stroke-width="0.32" >7</text>
<text x="167.0" y="328.0" font-size="5.5" text-anchor="middle" fill="#e49a96" font-weight="normal" stroke="#e49a96" stroke-width="0.32" >8</text>
<text x="173.0" y="320.0" font-size="5.5" text-anchor="middle" fill="#e49a96" font-weight="normal" stroke="#e49a96" stroke-width="0.32" >9</text>
<linearGradient id="vg8" gradientUnits="userSpaceOnUse" x1="0" y1="304" x2="0" y2="374"><stop offset="0" stop-color="#7a8cc0"/><stop offset="0.15" stop-color="#5a72b2"/><stop offset="1" stop-color="#4a64a8"/></linearGradient>
<path d="M199.3,306.0 C200.8,308.0 205.1,313.3 208.0,318.0 C210.9,322.7 214.0,328.3 217.0,334.0 C220.0,339.7 223.3,346.3 226.0,352.0 C228.7,357.7 232.2,365.3 233.4,368.0" fill="none" stroke="url(#vg8)" stroke-width="6.5" stroke-linecap="round" stroke-linejoin="round" />
<path d="M266.5,308.2 C265.1,309.8 261.1,313.9 258.0,318.0 C254.9,322.1 251.2,327.7 248.0,333.0 C244.8,338.3 241.3,344.8 239.0,350.0 C236.7,355.2 234.8,361.7 234.0,364.0" fill="none" stroke="url(#vg8)" stroke-width="6" stroke-linecap="round" stroke-linejoin="round" />
<circle cx="233.4" cy="370.0" r="4.5" fill="#4a66a8" stroke="none" stroke-width="1" />
<circle cx="199.3" cy="306.0" r="3.0" fill="#7a8cc0" stroke="none" stroke-width="1" />
<circle cx="266.5" cy="308.2" r="3.0" fill="#8aa4cc" stroke="none" stroke-width="1" />
<text x="203.0" y="320.0" font-size="5.5" text-anchor="middle" fill="#e49a96" font-weight="normal" stroke="#e49a96" stroke-width="0.32" >1</text>
<text x="207.0" y="329.0" font-size="5.5" text-anchor="middle" fill="#e49a96" font-weight="normal" stroke="#e49a96" stroke-width="0.32" >2</text>
<text x="212.0" y="338.0" font-size="5.5" text-anchor="middle" fill="#e49a96" font-weight="normal" stroke="#e49a96" stroke-width="0.32" >3</text>
<text x="217.0" y="346.0" font-size="5.5" text-anchor="middle" fill="#e49a96" font-weight="normal" stroke="#e49a96" stroke-width="0.32" >4</text>
<text x="222.0" y="354.0" font-size="5.5" text-anchor="middle" fill="#e49a96" font-weight="normal" stroke="#e49a96" stroke-width="0.32" >5</text>
<text x="244.0" y="367.0" font-size="5.5" text-anchor="middle" fill="#e49a96" font-weight="normal" stroke="#e49a96" stroke-width="0.32" >6</text>
<text x="249.5" y="353.0" font-size="5.5" text-anchor="middle" fill="#e49a96" font-weight="normal" stroke="#e49a96" stroke-width="0.32" >7</text>
<text x="251.0" y="344.0" font-size="5.5" text-anchor="middle" fill="#e49a96" font-weight="normal" stroke="#e49a96" stroke-width="0.32" >8</text>
<text x="256.0" y="334.0" font-size="5.5" text-anchor="middle" fill="#e49a96" font-weight="normal" stroke="#e49a96" stroke-width="0.32" >9</text>
<text x="262.0" y="325.0" font-size="5.5" text-anchor="middle" fill="#e49a96" font-weight="normal" stroke="#e49a96" stroke-width="0.32" >10</text>
<path d="M279.4,303.9 C280.8,305.8 285.2,310.3 288.0,315.0 C290.8,319.7 293.3,326.2 296.0,332.0 C298.7,337.8 301.7,345.0 304.0,350.0 C306.3,355.0 308.2,358.7 310.0,362.0 C311.8,365.3 313.8,368.7 314.6,370.0" fill="none" stroke="#643340" stroke-width="8.5" stroke-linecap="round" stroke-linejoin="round" />
<path d="M351.0,307.0 C349.7,308.8 345.7,313.5 343.0,318.0 C340.3,322.5 337.7,328.7 335.0,334.0 C332.3,339.3 329.5,345.3 327.0,350.0 C324.5,354.7 322.1,359.0 320.0,362.0 C317.9,365.0 315.5,367.0 314.6,368.0" fill="none" stroke="#5a3040" stroke-width="9" stroke-linecap="round" stroke-linejoin="round" />
<path d="M302.0,352.0 C303.3,354.0 307.5,361.7 310.0,364.0 C312.5,366.3 314.7,367.3 317.0,366.0 C319.3,364.7 322.8,357.7 324.0,356.0" fill="none" stroke="#2e2434" stroke-width="8" stroke-linecap="round" stroke-linejoin="round" />
<circle cx="279.4" cy="303.9" r="3.5" fill="#7a3a3a" stroke="none" stroke-width="1" />
<circle cx="351.0" cy="307.0" r="3.5" fill="#8a3a40" stroke="none" stroke-width="1" />
<text x="283.0" y="331.0" font-size="5.5" text-anchor="middle" fill="#e49a96" font-weight="normal" stroke="#e49a96" stroke-width="0.32" >1</text>
<text x="289.0" y="340.0" font-size="5.5" text-anchor="middle" fill="#e49a96" font-weight="normal" stroke="#e49a96" stroke-width="0.32" >2</text>
<text x="293.0" y="354.0" font-size="5.5" text-anchor="middle" fill="#e49a96" font-weight="normal" stroke="#e49a96" stroke-width="0.32" >3</text>
<text x="297.0" y="364.0" font-size="5.5" text-anchor="middle" fill="#e49a96" font-weight="normal" stroke="#e49a96" stroke-width="0.32" >4</text>
<text x="326.0" y="370.0" font-size="5.5" text-anchor="middle" fill="#e49a96" font-weight="normal" stroke="#e49a96" stroke-width="0.32" >6</text>
<text x="330.0" y="361.0" font-size="5.5" text-anchor="middle" fill="#e49a96" font-weight="normal" stroke="#e49a96" stroke-width="0.32" >7</text>
<text x="334.0" y="350.0" font-size="5.5" text-anchor="middle" fill="#e49a96" font-weight="normal" stroke="#e49a96" stroke-width="0.32" >8</text>
<text x="336.0" y="343.0" font-size="5.5" text-anchor="middle" fill="#e49a96" font-weight="normal" stroke="#e49a96" stroke-width="0.32" >9</text>
<text x="339.0" y="335.0" font-size="5.5" text-anchor="middle" fill="#e49a96" font-weight="normal" stroke="#e49a96" stroke-width="0.32" >10</text>
<text x="340.5" y="329.0" font-size="5.5" text-anchor="middle" fill="#e49a96" font-weight="normal" stroke="#e49a96" stroke-width="0.32" >11</text>
<text x="345.0" y="322.0" font-size="5.5" text-anchor="middle" fill="#e49a96" font-weight="normal" stroke="#e49a96" stroke-width="0.32" >12</text>
<path d="M381.4,301.8 C381.8,305.0 382.3,314.8 384.0,321.0 C385.7,327.2 388.3,333.7 391.4,339.2 C394.5,344.7 398.1,349.6 402.4,353.8 C406.7,358.1 412.1,362.4 417.0,364.7 C421.9,367.0 427.3,366.9 431.5,367.4 C435.7,367.8 438.1,368.8 442.4,367.4 C446.6,366.0 452.7,363.0 457.0,359.2 C461.3,355.4 464.7,349.8 468.0,344.6 C471.3,339.5 474.4,333.5 477.0,328.3 C479.6,323.1 482.3,316.1 483.4,313.7" fill="none" stroke="#641b24" stroke-width="10" stroke-linecap="round" stroke-linejoin="round" />
<path d="M381.4,301.8 C381.8,305.0 382.3,314.8 384.0,321.0 C385.7,327.2 390.2,336.2 391.4,339.2" fill="none" stroke="#6e1e28" stroke-width="12" stroke-linecap="round" stroke-linejoin="round" />
<circle cx="442.0" cy="366.0" r="6.5" fill="#7a2028" stroke="none" stroke-width="1" />
<circle cx="383.0" cy="300.0" r="5.5" fill="#6e1e28" stroke="none" stroke-width="1" />
<text x="372.5" y="305.0" font-size="5.5" text-anchor="middle" fill="#e49a96" font-weight="normal" stroke="#e49a96" stroke-width="0.32" >1</text>
<text x="372.0" y="320.5" font-size="5.5" text-anchor="middle" fill="#e49a96" font-weight="normal" stroke="#e49a96" stroke-width="0.32" >2</text>
<text x="381.0" y="340.0" font-size="5.5" text-anchor="middle" fill="#e49a96" font-weight="normal" stroke="#e49a96" stroke-width="0.32" >3</text>
<text x="392.0" y="355.0" font-size="5.5" text-anchor="middle" fill="#e49a96" font-weight="normal" stroke="#e49a96" stroke-width="0.32" >4</text>
<text x="406.0" y="371.0" font-size="5.5" text-anchor="middle" fill="#e49a96" font-weight="normal" stroke="#e49a96" stroke-width="0.32" >5</text>
<text x="452.0" y="375.0" font-size="5.5" text-anchor="middle" fill="#e49a96" font-weight="normal" stroke="#e49a96" stroke-width="0.32" >6</text>
<text x="469.0" y="364.0" font-size="5.5" text-anchor="middle" fill="#e49a96" font-weight="normal" stroke="#e49a96" stroke-width="0.32" >7</text>
<text x="475.0" y="352.0" font-size="5.5" text-anchor="middle" fill="#e49a96" font-weight="normal" stroke="#e49a96" stroke-width="0.32" >8</text>
<text x="481.0" y="341.0" font-size="5.5" text-anchor="middle" fill="#e49a96" font-weight="normal" stroke="#e49a96" stroke-width="0.32" >9</text>
<text x="488.0" y="328.0" font-size="5.5" text-anchor="middle" fill="#e49a96" font-weight="normal" stroke="#e49a96" stroke-width="0.32" >10</text>
<text x="479.0" y="307.0" font-size="5.5" text-anchor="middle" fill="#e49a96" font-weight="normal" stroke="#e49a96" stroke-width="0.32" >11</text>
<rect x="495.5" y="177.5" width="3.4" height="3.4" fill="#111" stroke="none" stroke-width="1" />
<path d="M498,179 L515,179 L515,343.8 L612.9,343.8 L612.9,339" fill="none" stroke="#c8c4bc" stroke-width="0.9" />
<rect x="496.5" y="279.8" width="3.4" height="3.4" fill="#111" stroke="none" stroke-width="1" />
<path d="M498,281.4 L505.4,281.4 L505.4,348.7 L654,348.7 L654,339" fill="none" stroke="#d4cfc6" stroke-width="0.9" />
<path d="M669.5,339 L669.5,346 L718.6,346 L718.6,339" fill="none" stroke="#a8b4c4" stroke-width="0.9" />
<text x="15.0" y="409.8" font-size="16.5" text-anchor="start" fill="#111" font-weight="bold"  >D</text>
<rect x="31.4" y="410.5" width="523.0" height="220.5" fill="none" stroke="#e2e2e2" stroke-width="1" />
<line x1="31.4" y1="520.6" x2="554.4" y2="520.6" stroke="#e2e2e2" stroke-width="1" />
<rect x="31.4" y="410.5" width="94.2" height="17.7" fill="#dde9f4" stroke="none" stroke-width="1" />
<text x="78.5" y="424.0" font-size="11.5" text-anchor="middle" fill="#2a2a2a" font-weight="normal" stroke="#2a2a2a" stroke-width="0.32" >Control</text>
<rect x="31.4" y="522.5" width="93.6" height="15.9" fill="#f3e1e1" stroke="none" stroke-width="1" />
<text x="78.2" y="533.8" font-size="11.5" text-anchor="middle" fill="#2a2a2a" font-weight="normal" stroke="#2a2a2a" stroke-width="0.32" >CervPlug</text>
<linearGradient id="pg0" x1="0" y1="0" x2="1" y2="0"><stop offset="0" stop-color="#b88283"/><stop offset="0.55" stop-color="#c99393"/><stop offset="1" stop-color="#c99393"/></linearGradient>
<path d="M68.6,495.9 C70.3,497.0 74.9,500.7 78.8,502.4 C82.6,504.2 89.5,505.7 91.7,506.4" fill="none" stroke="#c99393" stroke-width="3.108" stroke-linecap="round" stroke-linejoin="round" />
<path d="M59.3,436.6 C61.4,435.4 64.3,435.1 67.7,435.0 C71.1,434.9 77.1,435.0 79.7,435.7 C82.3,436.5 82.6,437.8 83.2,439.4 C83.8,440.9 83.9,443.5 83.2,445.1 C82.5,446.8 80.5,448.2 79.0,449.5 C77.5,450.8 75.2,451.8 74.4,453.1 C73.5,454.5 73.5,456.5 73.9,457.5 C74.4,458.4 75.2,458.9 77.0,458.9 C78.9,458.9 83.2,457.4 85.0,457.5 C86.8,457.6 87.8,458.8 87.7,459.6 C87.5,460.5 85.5,461.7 84.1,462.6 C82.8,463.4 81.3,464.0 79.7,464.7 C78.1,465.5 75.3,465.6 74.4,466.9 C73.4,468.2 73.6,470.4 73.9,472.7 C74.2,475.0 75.3,478.3 76.1,480.7 C76.9,483.1 77.9,485.6 78.8,487.2 C79.7,488.8 79.5,489.3 81.5,490.1 C83.5,490.9 89.4,491.5 90.8,492.3 C92.2,493.0 91.7,494.1 89.9,494.4 C88.0,494.8 82.7,494.0 79.7,494.4 C76.6,494.9 74.1,496.9 71.7,497.4 C69.2,497.8 67.5,498.2 65.0,497.0 C62.6,495.8 59.5,493.2 57.0,490.1 C54.6,487.0 51.8,482.4 50.4,478.5 C49.0,474.6 48.5,471.1 48.6,466.9 C48.7,462.7 49.8,457.2 50.8,453.1 C51.9,449.0 53.4,445.0 54.8,442.2 C56.2,439.5 57.1,437.8 59.3,436.6Z" fill="url(#pg0)" stroke="none" stroke-width="1" />
<linearGradient id="pg1" x1="0" y1="0" x2="1" y2="0"><stop offset="0" stop-color="#b8857f"/><stop offset="0.55" stop-color="#c99791"/><stop offset="1" stop-color="#c99791"/></linearGradient>
<path d="M126.6,495.9 C128.3,497.0 132.9,500.7 136.8,502.4 C140.6,504.2 147.5,505.7 149.7,506.4" fill="none" stroke="#c99791" stroke-width="3.1080000000000005" stroke-linecap="round" stroke-linejoin="round" />
<path d="M117.3,436.6 C119.4,435.4 122.3,435.1 125.7,435.0 C129.1,434.9 135.1,435.0 137.7,435.7 C140.3,436.5 140.6,437.8 141.2,439.4 C141.8,440.9 141.9,443.5 141.2,445.1 C140.5,446.8 138.5,448.2 137.0,449.5 C135.5,450.8 133.2,451.8 132.4,453.1 C131.5,454.5 131.5,456.5 131.9,457.5 C132.4,458.4 133.2,458.9 135.0,458.9 C136.9,458.9 141.2,457.4 143.0,457.5 C144.8,457.6 145.8,458.8 145.7,459.6 C145.5,460.5 143.5,461.7 142.1,462.6 C140.8,463.4 139.3,464.0 137.7,464.7 C136.1,465.5 133.3,465.6 132.4,466.9 C131.4,468.2 131.6,470.4 131.9,472.7 C132.2,475.0 133.3,478.3 134.1,480.7 C134.9,483.1 135.9,485.6 136.8,487.2 C137.7,488.8 137.5,489.3 139.5,490.1 C141.5,490.9 147.4,491.5 148.8,492.3 C150.2,493.0 149.7,494.1 147.9,494.4 C146.0,494.8 140.7,494.0 137.7,494.4 C134.6,494.9 132.1,496.9 129.7,497.4 C127.2,497.8 125.5,498.2 123.0,497.0 C120.6,495.8 117.5,493.2 115.0,490.1 C112.6,487.0 109.8,482.4 108.4,478.5 C107.0,474.6 106.5,471.1 106.6,466.9 C106.7,462.7 107.8,457.2 108.8,453.1 C109.9,449.0 111.4,445.0 112.8,442.2 C114.2,439.5 115.1,437.8 117.3,436.6Z" fill="url(#pg1)" stroke="none" stroke-width="1" />
<linearGradient id="pg2" x1="0" y1="0" x2="1" y2="0"><stop offset="0" stop-color="#98777f"/><stop offset="0.55" stop-color="#ab8990"/><stop offset="1" stop-color="#ab8990"/></linearGradient>
<path d="M186.0,495.9 C187.6,497.0 192.2,500.7 195.9,502.4 C199.7,504.2 206.4,505.7 208.5,506.4" fill="none" stroke="#ab8990" stroke-width="3.031000000000001" stroke-linecap="round" stroke-linejoin="round" />
<path d="M176.9,436.6 C179.0,435.4 181.8,435.1 185.1,435.0 C188.4,434.9 194.3,435.0 196.8,435.7 C199.3,436.5 199.7,437.8 200.3,439.4 C200.9,440.9 201.0,443.5 200.3,445.1 C199.6,446.8 197.6,448.2 196.2,449.5 C194.7,450.8 192.4,451.8 191.6,453.1 C190.8,454.5 190.7,456.5 191.2,457.5 C191.6,458.4 192.4,458.9 194.2,458.9 C196.0,458.9 200.3,457.4 202.0,457.5 C203.7,457.6 204.7,458.8 204.6,459.6 C204.5,460.5 202.4,461.7 201.1,462.6 C199.8,463.4 198.4,464.0 196.8,464.7 C195.2,465.5 192.6,465.6 191.6,466.9 C190.7,468.2 190.9,470.4 191.2,472.7 C191.5,475.0 192.6,478.3 193.3,480.7 C194.1,483.1 195.1,485.6 195.9,487.2 C196.8,488.8 196.6,489.3 198.5,490.1 C200.5,490.9 206.3,491.5 207.6,492.3 C209.0,493.0 208.6,494.1 206.8,494.4 C205.0,494.8 199.8,494.0 196.8,494.4 C193.9,494.9 191.4,496.9 189.0,497.4 C186.6,497.8 184.9,498.2 182.5,497.0 C180.1,495.8 177.1,493.2 174.7,490.1 C172.3,487.0 169.6,482.4 168.2,478.5 C166.9,474.6 166.4,471.1 166.5,466.9 C166.6,462.7 167.7,457.2 168.7,453.1 C169.7,449.0 171.2,445.0 172.6,442.2 C173.9,439.5 174.8,437.8 176.9,436.6Z" fill="url(#pg2)" stroke="none" stroke-width="1" />
<linearGradient id="pg3" x1="0" y1="0" x2="1" y2="0"><stop offset="0" stop-color="#b07e80"/><stop offset="0.55" stop-color="#c49192"/><stop offset="1" stop-color="#c49192"/></linearGradient>
<path d="M247.0,495.9 C248.6,497.0 252.9,500.7 256.5,502.4 C260.1,504.2 266.5,505.7 268.5,506.4" fill="none" stroke="#c49192" stroke-width="2.890999999999999" stroke-linecap="round" stroke-linejoin="round" />
<path d="M238.3,436.6 C240.3,435.4 243.0,435.1 246.2,435.0 C249.3,434.9 254.9,435.0 257.3,435.7 C259.7,436.5 260.1,437.8 260.6,439.4 C261.2,440.9 261.3,443.5 260.6,445.1 C260.0,446.8 258.1,448.2 256.7,449.5 C255.3,450.8 253.1,451.8 252.4,453.1 C251.6,454.5 251.5,456.5 251.9,457.5 C252.4,458.4 253.1,458.9 254.8,458.9 C256.6,458.9 260.6,457.4 262.3,457.5 C263.9,457.6 264.9,458.8 264.7,459.6 C264.6,460.5 262.7,461.7 261.4,462.6 C260.2,463.4 258.8,464.0 257.3,464.7 C255.8,465.5 253.2,465.6 252.4,466.9 C251.5,468.2 251.7,470.4 251.9,472.7 C252.2,475.0 253.2,478.3 254.0,480.7 C254.8,483.1 255.7,485.6 256.5,487.2 C257.3,488.8 257.1,489.3 259.0,490.1 C260.8,490.9 266.3,491.5 267.6,492.3 C268.9,493.0 268.5,494.1 266.8,494.4 C265.1,494.8 260.1,494.0 257.3,494.4 C254.5,494.9 252.1,496.9 249.9,497.4 C247.6,497.8 246.0,498.2 243.7,497.0 C241.4,495.8 238.5,493.2 236.2,490.1 C234.0,487.0 231.4,482.4 230.1,478.5 C228.7,474.6 228.3,471.1 228.4,466.9 C228.5,462.7 229.5,457.2 230.5,453.1 C231.4,449.0 232.9,445.0 234.2,442.2 C235.5,439.5 236.3,437.8 238.3,436.6Z" fill="url(#pg3)" stroke="none" stroke-width="1" />
<linearGradient id="pg4" x1="0" y1="0" x2="1" y2="0"><stop offset="0" stop-color="#90787f"/><stop offset="0.55" stop-color="#a28a91"/><stop offset="1" stop-color="#a28a91"/></linearGradient>
<path d="M306.6,495.9 C308.4,497.0 313.5,500.7 317.6,502.4 C321.8,504.2 329.2,505.7 331.6,506.4" fill="none" stroke="#a28a91" stroke-width="3.3600000000000003" stroke-linecap="round" stroke-linejoin="round" />
<path d="M296.5,436.6 C298.8,435.4 302.0,435.1 305.6,435.0 C309.3,434.9 315.8,435.0 318.6,435.7 C321.4,436.5 321.8,437.8 322.4,439.4 C323.1,440.9 323.2,443.5 322.4,445.1 C321.7,446.8 319.5,448.2 317.9,449.5 C316.3,450.8 313.8,451.8 312.8,453.1 C311.9,454.5 311.9,456.5 312.4,457.5 C312.8,458.4 313.7,458.9 315.7,458.9 C317.7,458.9 322.4,457.4 324.4,457.5 C326.3,457.6 327.4,458.8 327.2,459.6 C327.1,460.5 324.8,461.7 323.4,462.6 C322.0,463.4 320.4,464.0 318.6,464.7 C316.8,465.5 313.9,465.6 312.8,466.9 C311.8,468.2 312.0,470.4 312.4,472.7 C312.7,475.0 313.9,478.3 314.8,480.7 C315.6,483.1 316.7,485.6 317.6,487.2 C318.6,488.8 318.4,489.3 320.5,490.1 C322.7,490.9 329.1,491.5 330.6,492.3 C332.1,493.0 331.6,494.1 329.6,494.4 C327.6,494.8 321.9,494.0 318.6,494.4 C315.3,494.9 312.6,496.9 310.0,497.4 C307.3,497.8 305.4,498.2 302.8,497.0 C300.1,495.8 296.8,493.2 294.1,490.1 C291.5,487.0 288.4,482.4 286.9,478.5 C285.4,474.6 284.9,471.1 285.0,466.9 C285.1,462.7 286.3,457.2 287.4,453.1 C288.5,449.0 290.2,445.0 291.7,442.2 C293.2,439.5 294.2,437.8 296.5,436.6Z" fill="url(#pg4)" stroke="none" stroke-width="1" />
<linearGradient id="pg5" x1="0" y1="0" x2="1" y2="0"><stop offset="0" stop-color="#eee8e8"/><stop offset="0.55" stop-color="#f3eeee"/><stop offset="1" stop-color="#f3eeee"/></linearGradient>
<path d="M390.4,495.9 C392.2,497.0 397.1,500.7 401.1,502.4 C405.1,504.2 412.4,505.7 414.6,506.4" fill="none" stroke="#f3eeee" stroke-width="3.2550000000000003" stroke-linecap="round" stroke-linejoin="round" />
<path d="M380.7,436.6 C382.9,435.4 385.9,435.1 389.5,435.0 C393.1,434.9 399.3,435.0 402.1,435.7 C404.8,436.5 405.1,437.8 405.8,439.4 C406.4,440.9 406.5,443.5 405.8,445.1 C405.0,446.8 402.9,448.2 401.4,449.5 C399.8,450.8 397.4,451.8 396.5,453.1 C395.6,454.5 395.5,456.5 396.0,457.5 C396.5,458.4 397.3,458.9 399.3,458.9 C401.2,458.9 405.8,457.4 407.6,457.5 C409.5,457.6 410.6,458.8 410.4,459.6 C410.3,460.5 408.1,461.7 406.7,462.6 C405.3,463.4 403.8,464.0 402.1,464.7 C400.3,465.5 397.5,465.6 396.5,466.9 C395.5,468.2 395.7,470.4 396.0,472.7 C396.3,475.0 397.5,478.3 398.3,480.7 C399.2,483.1 400.2,485.6 401.1,487.2 C402.1,488.8 401.8,489.3 403.9,490.1 C406.0,490.9 412.2,491.5 413.7,492.3 C415.1,493.0 414.7,494.1 412.7,494.4 C410.8,494.8 405.2,494.0 402.1,494.4 C398.9,494.9 396.2,496.9 393.7,497.4 C391.1,497.8 389.3,498.2 386.7,497.0 C384.1,495.8 380.9,493.2 378.3,490.1 C375.8,487.0 372.8,482.4 371.4,478.5 C369.9,474.6 369.4,471.1 369.5,466.9 C369.6,462.7 370.7,457.2 371.8,453.1 C372.9,449.0 374.5,445.0 376.0,442.2 C377.5,439.5 378.4,437.8 380.7,436.6Z" fill="url(#pg5)" stroke="none" stroke-width="1" />
<linearGradient id="pg6" x1="0" y1="0" x2="1" y2="0"><stop offset="0" stop-color="#eee8e8"/><stop offset="0.55" stop-color="#f3eeee"/><stop offset="1" stop-color="#f3eeee"/></linearGradient>
<path d="M452.2,495.9 C453.9,497.0 458.4,500.7 462.2,502.4 C465.9,504.2 472.6,505.7 474.7,506.4" fill="none" stroke="#f3eeee" stroke-width="3.0239999999999996" stroke-linecap="round" stroke-linejoin="round" />
<path d="M443.2,436.6 C445.3,435.4 448.1,435.1 451.4,435.0 C454.7,434.9 460.5,435.0 463.0,435.7 C465.6,436.5 465.9,437.8 466.5,439.4 C467.1,440.9 467.2,443.5 466.5,445.1 C465.8,446.8 463.8,448.2 462.4,449.5 C461.0,450.8 458.7,451.8 457.9,453.1 C457.0,454.5 457.0,456.5 457.4,457.5 C457.9,458.4 458.6,458.9 460.4,458.9 C462.2,458.9 466.5,457.4 468.2,457.5 C470.0,457.6 471.0,458.8 470.8,459.6 C470.7,460.5 468.7,461.7 467.4,462.6 C466.1,463.4 464.6,464.0 463.0,464.7 C461.5,465.5 458.8,465.6 457.9,466.9 C456.9,468.2 457.1,470.4 457.4,472.7 C457.7,475.0 458.8,478.3 459.6,480.7 C460.4,483.1 461.3,485.6 462.2,487.2 C463.0,488.8 462.8,489.3 464.8,490.1 C466.7,490.9 472.5,491.5 473.8,492.3 C475.2,493.0 474.8,494.1 473.0,494.4 C471.2,494.8 466.0,494.0 463.0,494.4 C460.1,494.9 457.6,496.9 455.3,497.4 C452.9,497.8 451.2,498.2 448.8,497.0 C446.4,495.8 443.4,493.2 441.0,490.1 C438.6,487.0 435.9,482.4 434.5,478.5 C433.2,474.6 432.7,471.1 432.8,466.9 C432.9,462.7 434.0,457.2 435.0,453.1 C436.0,449.0 437.5,445.0 438.8,442.2 C440.2,439.5 441.1,437.8 443.2,436.6Z" fill="url(#pg6)" stroke="none" stroke-width="1" />
<linearGradient id="pg7" x1="0" y1="0" x2="1" y2="0"><stop offset="0" stop-color="#eee8e8"/><stop offset="0.55" stop-color="#f3eeee"/><stop offset="1" stop-color="#f3eeee"/></linearGradient>
<path d="M513.5,495.9 C515.3,497.0 520.2,500.7 524.2,502.4 C528.2,504.2 535.4,505.7 537.6,506.4" fill="none" stroke="#f3eeee" stroke-width="3.241000000000001" stroke-linecap="round" stroke-linejoin="round" />
<path d="M503.8,436.6 C506.0,435.4 509.1,435.1 512.6,435.0 C516.2,434.9 522.4,435.0 525.1,435.7 C527.8,436.5 528.2,437.8 528.8,439.4 C529.4,440.9 529.5,443.5 528.8,445.1 C528.1,446.8 526.0,448.2 524.4,449.5 C522.9,450.8 520.4,451.8 519.6,453.1 C518.7,454.5 518.6,456.5 519.1,457.5 C519.6,458.4 520.4,458.9 522.3,458.9 C524.3,458.9 528.8,457.4 530.7,457.5 C532.5,457.6 533.6,458.8 533.4,459.6 C533.3,460.5 531.1,461.7 529.7,462.6 C528.4,463.4 526.8,464.0 525.1,464.7 C523.4,465.5 520.6,465.6 519.6,466.9 C518.6,468.2 518.8,470.4 519.1,472.7 C519.4,475.0 520.6,478.3 521.4,480.7 C522.3,483.1 523.3,485.6 524.2,487.2 C525.1,488.8 524.9,489.3 527.0,490.1 C529.0,490.9 535.2,491.5 536.7,492.3 C538.2,493.0 537.7,494.1 535.8,494.4 C533.8,494.8 528.3,494.0 525.1,494.4 C521.9,494.9 519.3,496.9 516.8,497.4 C514.2,497.8 512.4,498.2 509.8,497.0 C507.3,495.8 504.0,493.2 501.5,490.1 C499.0,487.0 496.0,482.4 494.6,478.5 C493.1,474.6 492.6,471.1 492.7,466.9 C492.8,462.7 493.9,457.2 495.0,453.1 C496.1,449.0 497.7,445.0 499.2,442.2 C500.6,439.5 501.6,437.8 503.8,436.6Z" fill="url(#pg7)" stroke="none" stroke-width="1" />
<linearGradient id="pg10" x1="0" y1="0" x2="1" y2="0"><stop offset="0" stop-color="#bb8586"/><stop offset="0.55" stop-color="#cf9997"/><stop offset="1" stop-color="#cf9997"/></linearGradient>
<path d="M58.7,607.1 C60.7,608.1 66.0,611.8 70.4,613.5 C74.8,615.2 82.7,616.8 85.2,617.4" fill="none" stroke="#cf9997" stroke-width="3.5630000000000006" stroke-linecap="round" stroke-linejoin="round" />
<path d="M48.0,548.6 C50.5,547.4 53.8,547.1 57.7,547.0 C61.6,546.9 68.5,547.0 71.4,547.7 C74.4,548.4 74.8,549.7 75.5,551.3 C76.2,552.8 76.3,555.3 75.5,557.0 C74.7,558.7 72.4,560.0 70.7,561.3 C69.0,562.6 66.3,563.6 65.3,564.9 C64.3,566.2 64.3,568.2 64.8,569.2 C65.3,570.1 66.3,570.6 68.4,570.6 C70.5,570.6 75.5,569.0 77.5,569.2 C79.6,569.3 80.8,570.5 80.6,571.3 C80.4,572.1 78.0,573.3 76.5,574.2 C75.0,575.0 73.3,575.6 71.4,576.3 C69.6,577.0 66.4,577.1 65.3,578.5 C64.2,579.8 64.5,581.9 64.8,584.2 C65.2,586.4 66.4,589.7 67.4,592.0 C68.3,594.4 69.4,596.9 70.4,598.5 C71.4,600.0 71.2,600.5 73.5,601.3 C75.8,602.2 82.5,602.8 84.2,603.5 C85.8,604.2 85.3,605.3 83.1,605.6 C81.0,606.0 74.9,605.2 71.4,605.6 C68.0,606.1 65.1,608.1 62.3,608.5 C59.5,608.9 57.4,609.3 54.6,608.1 C51.8,606.9 48.3,604.4 45.5,601.3 C42.7,598.3 39.4,593.7 37.8,589.9 C36.2,586.1 35.7,582.6 35.8,578.5 C35.9,574.3 37.2,568.9 38.3,564.9 C39.5,560.8 41.3,556.9 42.9,554.1 C44.5,551.4 45.6,549.8 48.0,548.6Z" fill="url(#pg10)" stroke="none" stroke-width="1" />
<linearGradient id="pg11" x1="0" y1="0" x2="1" y2="0"><stop offset="0" stop-color="#bb8586"/><stop offset="0.55" stop-color="#cb9596"/><stop offset="1" stop-color="#cb9596"/></linearGradient>
<path d="M125.9,607.1 C127.6,608.1 132.4,611.8 136.3,613.5 C140.2,615.2 147.3,616.8 149.4,617.4" fill="none" stroke="#cb9596" stroke-width="3.171000000000001" stroke-linecap="round" stroke-linejoin="round" />
<path d="M116.4,548.6 C118.6,547.4 121.5,547.1 125.0,547.0 C128.5,546.9 134.6,547.0 137.2,547.7 C139.9,548.4 140.2,549.7 140.8,551.3 C141.4,552.8 141.6,555.3 140.8,557.0 C140.1,558.7 138.0,560.0 136.5,561.3 C135.0,562.6 132.6,563.6 131.8,564.9 C130.9,566.2 130.9,568.2 131.3,569.2 C131.8,570.1 132.6,570.6 134.5,570.6 C136.4,570.6 140.8,569.0 142.6,569.2 C144.5,569.3 145.5,570.5 145.4,571.3 C145.2,572.1 143.1,573.3 141.7,574.2 C140.4,575.0 138.9,575.6 137.2,576.3 C135.5,577.0 132.8,577.1 131.8,578.5 C130.8,579.8 131.0,581.9 131.3,584.2 C131.6,586.4 132.8,589.7 133.6,592.0 C134.4,594.4 135.4,596.9 136.3,598.5 C137.2,600.0 137.0,600.5 139.0,601.3 C141.1,602.2 147.1,602.8 148.5,603.5 C150.0,604.2 149.5,605.3 147.6,605.6 C145.7,606.0 140.3,605.2 137.2,605.6 C134.1,606.1 131.5,608.1 129.1,608.5 C126.6,608.9 124.8,609.3 122.3,608.1 C119.8,606.9 116.6,604.4 114.1,601.3 C111.6,598.3 108.7,593.7 107.3,589.9 C105.9,586.1 105.4,582.6 105.5,578.5 C105.6,574.3 106.7,568.9 107.8,564.9 C108.8,560.8 110.4,556.9 111.8,554.1 C113.3,551.4 114.2,549.8 116.4,548.6Z" fill="url(#pg11)" stroke="none" stroke-width="1" />
<linearGradient id="pg12" x1="0" y1="0" x2="1" y2="0"><stop offset="0" stop-color="#bb8586"/><stop offset="0.55" stop-color="#cf9c9c"/><stop offset="1" stop-color="#cf9c9c"/></linearGradient>
<path d="M193.6,607.1 C195.4,608.1 200.6,611.8 204.8,613.5 C209.1,615.2 216.7,616.8 219.0,617.4" fill="none" stroke="#cf9c9c" stroke-width="3.43" stroke-linecap="round" stroke-linejoin="round" />
<path d="M183.3,548.6 C185.6,547.4 188.8,547.1 192.6,547.0 C196.3,546.9 202.9,547.0 205.8,547.7 C208.7,548.4 209.1,549.7 209.7,551.3 C210.4,552.8 210.5,555.3 209.7,557.0 C208.9,558.7 206.7,560.0 205.1,561.3 C203.4,562.6 200.9,563.6 199.9,564.9 C199.0,566.2 198.9,568.2 199.4,569.2 C199.9,570.1 200.8,570.6 202.9,570.6 C204.9,570.6 209.7,569.0 211.7,569.2 C213.6,569.3 214.8,570.5 214.6,571.3 C214.5,572.1 212.2,573.3 210.7,574.2 C209.2,575.0 207.6,575.6 205.8,576.3 C204.0,577.0 201.0,577.1 199.9,578.5 C198.9,579.8 199.1,581.9 199.4,584.2 C199.8,586.4 201.0,589.7 201.9,592.0 C202.8,594.4 203.8,596.9 204.8,598.5 C205.8,600.0 205.6,600.5 207.8,601.3 C210.0,602.2 216.5,602.8 218.1,603.5 C219.6,604.2 219.1,605.3 217.1,605.6 C215.0,606.0 209.1,605.2 205.8,605.6 C202.5,606.1 199.7,608.1 197.0,608.5 C194.3,608.9 192.3,609.3 189.6,608.1 C186.9,606.9 183.5,604.4 180.8,601.3 C178.1,598.3 175.0,593.7 173.5,589.9 C171.9,586.1 171.4,582.6 171.5,578.5 C171.6,574.3 172.8,568.9 173.9,564.9 C175.1,560.8 176.8,556.9 178.4,554.1 C179.9,551.4 180.9,549.8 183.3,548.6Z" fill="url(#pg12)" stroke="none" stroke-width="1" />
<linearGradient id="pg13" x1="0" y1="0" x2="1" y2="0"><stop offset="0" stop-color="#bb8586"/><stop offset="0.55" stop-color="#cd9897"/><stop offset="1" stop-color="#cd9897"/></linearGradient>
<path d="M262.0,607.1 C263.4,608.1 267.4,611.8 270.6,613.5 C273.9,615.2 279.7,616.8 281.6,617.4" fill="none" stroke="#cd9897" stroke-width="2.6389999999999993" stroke-linecap="round" stroke-linejoin="round" />
<path d="M254.0,548.6 C255.9,547.4 258.3,547.1 261.2,547.0 C264.1,546.9 269.2,547.0 271.4,547.7 C273.6,548.4 273.9,549.7 274.4,551.3 C274.9,552.8 275.0,555.3 274.4,557.0 C273.8,558.7 272.1,560.0 270.8,561.3 C269.6,562.6 267.6,563.6 266.9,564.9 C266.1,566.2 266.1,568.2 266.5,569.2 C266.9,570.1 267.6,570.6 269.1,570.6 C270.7,570.6 274.4,569.0 275.9,569.2 C277.4,569.3 278.3,570.5 278.2,571.3 C278.1,572.1 276.3,573.3 275.2,574.2 C274.0,575.0 272.8,575.6 271.4,576.3 C270.0,577.0 267.7,577.1 266.9,578.5 C266.0,579.8 266.2,581.9 266.5,584.2 C266.7,586.4 267.7,589.7 268.4,592.0 C269.1,594.4 269.9,596.9 270.6,598.5 C271.4,600.0 271.2,600.5 272.9,601.3 C274.6,602.2 279.6,602.8 280.8,603.5 C282.0,604.2 281.6,605.3 280.1,605.6 C278.5,606.0 274.0,605.2 271.4,605.6 C268.8,606.1 266.7,608.1 264.6,608.5 C262.5,608.9 261.0,609.3 258.9,608.1 C256.9,606.9 254.2,604.4 252.2,601.3 C250.1,598.3 247.7,593.7 246.5,589.9 C245.3,586.1 244.9,582.6 245.0,578.5 C245.1,574.3 246.0,568.9 246.9,564.9 C247.8,560.8 249.1,556.9 250.3,554.1 C251.5,551.4 252.2,549.8 254.0,548.6Z" fill="url(#pg13)" stroke="none" stroke-width="1" />
<linearGradient id="pg14" x1="0" y1="0" x2="1" y2="0"><stop offset="0" stop-color="#bb8586"/><stop offset="0.55" stop-color="#cb9698"/><stop offset="1" stop-color="#cb9698"/></linearGradient>
<path d="M328.7,607.1 C330.2,608.1 334.4,611.8 337.8,613.5 C341.3,615.2 347.4,616.8 349.3,617.4" fill="none" stroke="#cb9698" stroke-width="2.772000000000002" stroke-linecap="round" stroke-linejoin="round" />
<path d="M320.4,548.6 C322.3,547.4 324.9,547.1 327.9,547.0 C331.0,546.9 336.3,547.0 338.6,547.7 C340.9,548.4 341.3,549.7 341.8,551.3 C342.3,552.8 342.4,555.3 341.8,557.0 C341.2,558.7 339.3,560.0 338.0,561.3 C336.7,562.6 334.6,563.6 333.9,564.9 C333.1,566.2 333.1,568.2 333.5,569.2 C333.9,570.1 334.6,570.6 336.2,570.6 C337.9,570.6 341.8,569.0 343.4,569.2 C345.0,569.3 345.9,570.5 345.7,571.3 C345.6,572.1 343.8,573.3 342.6,574.2 C341.4,575.0 340.1,575.6 338.6,576.3 C337.2,577.0 334.7,577.1 333.9,578.5 C333.0,579.8 333.2,581.9 333.5,584.2 C333.7,586.4 334.7,589.7 335.5,592.0 C336.2,594.4 337.0,596.9 337.8,598.5 C338.6,600.0 338.4,600.5 340.2,601.3 C342.0,602.2 347.3,602.8 348.5,603.5 C349.8,604.2 349.4,605.3 347.7,605.6 C346.1,606.0 341.3,605.2 338.6,605.6 C335.9,606.1 333.7,608.1 331.5,608.5 C329.3,608.9 327.7,609.3 325.6,608.1 C323.4,606.9 320.6,604.4 318.4,601.3 C316.2,598.3 313.7,593.7 312.5,589.9 C311.2,586.1 310.8,582.6 310.9,578.5 C311.0,574.3 312.0,568.9 312.9,564.9 C313.8,560.8 315.2,556.9 316.4,554.1 C317.7,551.4 318.5,549.8 320.4,548.6Z" fill="url(#pg14)" stroke="none" stroke-width="1" />
<linearGradient id="pg15" x1="0" y1="0" x2="1" y2="0"><stop offset="0" stop-color="#bb8586"/><stop offset="0.55" stop-color="#c99498"/><stop offset="1" stop-color="#c99498"/></linearGradient>
<path d="M391.1,607.1 C392.5,608.1 396.2,611.8 399.3,613.5 C402.4,615.2 408.0,616.8 409.7,617.4" fill="none" stroke="#c99498" stroke-width="2.506000000000001" stroke-linecap="round" stroke-linejoin="round" />
<path d="M383.6,548.6 C385.3,547.4 387.6,547.1 390.4,547.0 C393.1,546.9 398.0,547.0 400.1,547.7 C402.1,548.4 402.4,549.7 402.9,551.3 C403.4,552.8 403.5,555.3 402.9,557.0 C402.4,558.7 400.7,560.0 399.5,561.3 C398.3,562.6 396.5,563.6 395.8,564.9 C395.1,566.2 395.0,568.2 395.4,569.2 C395.8,570.1 396.4,570.6 397.9,570.6 C399.4,570.6 402.9,569.0 404.4,569.2 C405.8,569.3 406.6,570.5 406.5,571.3 C406.4,572.1 404.7,573.3 403.6,574.2 C402.6,575.0 401.4,575.6 400.1,576.3 C398.7,577.0 396.5,577.1 395.8,578.5 C395.0,579.8 395.2,581.9 395.4,584.2 C395.6,586.4 396.5,589.7 397.2,592.0 C397.9,594.4 398.6,596.9 399.3,598.5 C400.1,600.0 399.9,600.5 401.5,601.3 C403.1,602.2 407.9,602.8 409.0,603.5 C410.1,604.2 409.8,605.3 408.3,605.6 C406.8,606.0 402.5,605.2 400.1,605.6 C397.6,606.1 395.6,608.1 393.6,608.5 C391.6,608.9 390.2,609.3 388.2,608.1 C386.3,606.9 383.8,604.4 381.8,601.3 C379.8,598.3 377.6,593.7 376.4,589.9 C375.3,586.1 374.9,582.6 375.0,578.5 C375.1,574.3 376.0,568.9 376.8,564.9 C377.6,560.8 378.9,556.9 380.0,554.1 C381.1,551.4 381.9,549.8 383.6,548.6Z" fill="url(#pg15)" stroke="none" stroke-width="1" />
<linearGradient id="pg16" x1="0" y1="0" x2="1" y2="0"><stop offset="0" stop-color="#bb8586"/><stop offset="0.55" stop-color="#ca9597"/><stop offset="1" stop-color="#ca9597"/></linearGradient>
<path d="M455.7,607.1 C457.3,608.1 461.7,611.8 465.3,613.5 C468.9,615.2 475.3,616.8 477.4,617.4" fill="none" stroke="#ca9597" stroke-width="2.9120000000000017" stroke-linecap="round" stroke-linejoin="round" />
<path d="M447.0,548.6 C449.0,547.4 451.7,547.1 454.9,547.0 C458.1,546.9 463.7,547.0 466.1,547.7 C468.5,548.4 468.9,549.7 469.4,551.3 C470.0,552.8 470.1,555.3 469.4,557.0 C468.8,558.7 466.9,560.0 465.5,561.3 C464.1,562.6 461.9,563.6 461.1,564.9 C460.3,566.2 460.3,568.2 460.7,569.2 C461.1,570.1 461.9,570.6 463.6,570.6 C465.4,570.6 469.4,569.0 471.1,569.2 C472.8,569.3 473.7,570.5 473.6,571.3 C473.5,572.1 471.5,573.3 470.3,574.2 C469.0,575.0 467.6,575.6 466.1,576.3 C464.6,577.0 462.0,577.1 461.1,578.5 C460.2,579.8 460.4,581.9 460.7,584.2 C461.0,586.4 462.0,589.7 462.8,592.0 C463.6,594.4 464.5,596.9 465.3,598.5 C466.1,600.0 465.9,600.5 467.8,601.3 C469.7,602.2 475.2,602.8 476.5,603.5 C477.8,604.2 477.4,605.3 475.7,605.6 C474.0,606.0 469.0,605.2 466.1,605.6 C463.3,606.1 460.9,608.1 458.6,608.5 C456.3,608.9 454.7,609.3 452.4,608.1 C450.1,606.9 447.2,604.4 444.9,601.3 C442.6,598.3 440.0,593.7 438.7,589.9 C437.3,586.1 436.9,582.6 437.0,578.5 C437.1,574.3 438.1,568.9 439.1,564.9 C440.1,560.8 441.5,556.9 442.8,554.1 C444.1,551.4 445.0,549.8 447.0,548.6Z" fill="url(#pg16)" stroke="none" stroke-width="1" />
<linearGradient id="pg17" x1="0" y1="0" x2="1" y2="0"><stop offset="0" stop-color="#bb8586"/><stop offset="0.55" stop-color="#cd9899"/><stop offset="1" stop-color="#cd9899"/></linearGradient>
<path d="M526.4,607.1 C528.0,608.1 532.5,611.8 536.2,613.5 C540.0,615.2 546.6,616.8 548.7,617.4" fill="none" stroke="#cd9899" stroke-width="3.0100000000000002" stroke-linecap="round" stroke-linejoin="round" />
<path d="M517.3,548.6 C519.4,547.4 522.2,547.1 525.5,547.0 C528.8,546.9 534.6,547.0 537.1,547.7 C539.6,548.4 540.0,549.7 540.5,551.3 C541.1,552.8 541.2,555.3 540.5,557.0 C539.9,558.7 537.9,560.0 536.5,561.3 C535.0,562.6 532.8,563.6 531.9,564.9 C531.1,566.2 531.1,568.2 531.5,569.2 C531.9,570.1 532.7,570.6 534.5,570.6 C536.3,570.6 540.5,569.0 542.3,569.2 C544.0,569.3 545.0,570.5 544.8,571.3 C544.7,572.1 542.7,573.3 541.4,574.2 C540.1,575.0 538.7,575.6 537.1,576.3 C535.5,577.0 532.9,577.1 531.9,578.5 C531.0,579.8 531.2,581.9 531.5,584.2 C531.8,586.4 532.9,589.7 533.7,592.0 C534.4,594.4 535.4,596.9 536.2,598.5 C537.1,600.0 536.9,600.5 538.8,601.3 C540.8,602.2 546.5,602.8 547.9,603.5 C549.2,604.2 548.8,605.3 547.0,605.6 C545.2,606.0 540.0,605.2 537.1,605.6 C534.2,606.1 531.7,608.1 529.4,608.5 C527.0,608.9 525.3,609.3 522.9,608.1 C520.5,606.9 517.5,604.4 515.2,601.3 C512.8,598.3 510.1,593.7 508.7,589.9 C507.4,586.1 506.9,582.6 507.0,578.5 C507.1,574.3 508.1,568.9 509.1,564.9 C510.2,560.8 511.7,556.9 513.0,554.1 C514.4,551.4 515.2,549.8 517.3,548.6Z" fill="url(#pg17)" stroke="none" stroke-width="1" />
<text transform="translate(240,600.5) scale(0.8,1)" font-size="33" fill="#fff" font-family="'Liberation Sans','Noto Sans CJK SC',sans-serif">0</text>
<text transform="translate(253.5,600.5) scale(0.8,1)" font-size="33" fill="#fff" font-family="'Liberation Sans','Noto Sans CJK SC',sans-serif">2</text>
<text transform="translate(306,600.5) scale(0.8,1)" font-size="33" fill="#fff" font-family="'Liberation Sans','Noto Sans CJK SC',sans-serif">C</text>
<text transform="translate(321,600.5) scale(0.8,1)" font-size="33" fill="#fff" font-family="'Liberation Sans','Noto Sans CJK SC',sans-serif">N</text>
<text transform="translate(375.5,600.5) scale(0.8,1)" font-size="29" fill="#fff" font-family="'Liberation Sans','Noto Sans CJK SC',sans-serif">式</text>
<text transform="translate(396,600.5) scale(0.8,1)" font-size="29" fill="#fff" font-family="'Liberation Sans','Noto Sans CJK SC',sans-serif">馆</text>
<text transform="translate(435.5,600.5) scale(0.8,1)" font-size="29" fill="#fff" font-family="'Liberation Sans','Noto Sans CJK SC',sans-serif">包</text>
<text transform="translate(456,600.5) scale(0.8,1)" font-size="29" fill="#fff" font-family="'Liberation Sans','Noto Sans CJK SC',sans-serif">儿</text>
<text transform="translate(503,600.5) scale(0.8,1)" font-size="29" fill="#fff" font-family="'Liberation Sans','Noto Sans CJK SC',sans-serif">力</text>
<text x="568.7" y="407.0" font-size="16.5" text-anchor="start" fill="#111" font-weight="bold"  >E</text>
<path d="M655,409.3 L588.8,409.3 L588.8,630 L788.9,630 L788.9,409.3 L711,409.3" fill="none" stroke="#e0e0e0" stroke-width="1" />
<text x="682.0" y="413.2" font-size="11.5" text-anchor="middle" fill="#2a2a2a" font-weight="normal" stroke="#2a2a2a" stroke-width="0.32" >Uterus</text>
<rect x="582.0" y="443.5" width="11.0" height="52.0" fill="#fff" stroke="none" stroke-width="1" />
<text transform="translate(591.2,469.5) rotate(-90)" font-size="11.5" text-anchor="middle" fill="#2a2a2a" stroke="#2a2a2a" stroke-width="0.32">Control</text>
<rect x="582.0" y="544.5" width="11.0" height="52.0" fill="#fff" stroke="none" stroke-width="1" />
<text transform="translate(591.2,570.5) rotate(-90)" font-size="11.5" text-anchor="middle" fill="#2a2a2a" stroke="#2a2a2a" stroke-width="0.32">CervPlug</text>
<path d="M600.0,455.0 C601.5,450.8 602.8,445.0 605.0,441.0 C607.2,437.0 610.8,433.8 613.0,431.0 C615.2,428.2 615.5,425.0 618.0,424.0 C620.5,423.0 624.7,423.8 628.0,425.0 C631.3,426.2 634.3,428.8 638.0,431.0 C641.7,433.2 646.3,435.3 650.0,438.0 C653.7,440.7 657.2,443.3 660.0,447.0 C662.8,450.7 665.6,455.3 667.0,460.0 C668.4,464.7 668.8,470.0 668.5,475.0 C668.2,480.0 667.1,485.5 665.0,490.0 C662.9,494.5 660.0,499.0 656.0,502.0 C652.0,505.0 646.2,506.9 641.0,508.0 C635.8,509.1 630.2,509.3 625.0,508.5 C619.8,507.7 614.2,505.6 610.0,503.0 C605.8,500.4 602.4,497.0 600.0,493.0 C597.6,489.0 596.2,483.5 595.5,479.0 C594.8,474.5 595.2,470.0 596.0,466.0 C596.8,462.0 598.5,459.2 600.0,455.0Z" fill="#dea3e0" stroke="none" stroke-width="1" />
<path d="M600.0,455.0 C601.5,450.8 602.8,445.0 605.0,441.0 C607.2,437.0 610.8,433.8 613.0,431.0 C615.2,428.2 615.5,425.0 618.0,424.0 C620.5,423.0 624.7,423.8 628.0,425.0 C631.3,426.2 634.3,428.8 638.0,431.0 C641.7,433.2 646.3,435.3 650.0,438.0 C653.7,440.7 657.2,443.3 660.0,447.0 C662.8,450.7 665.6,455.3 667.0,460.0 C668.4,464.7 668.8,470.0 668.5,475.0 C668.2,480.0 667.1,485.5 665.0,490.0 C662.9,494.5 660.0,499.0 656.0,502.0 C652.0,505.0 646.2,506.9 641.0,508.0 C635.8,509.1 630.2,509.3 625.0,508.5 C619.8,507.7 614.2,505.6 610.0,503.0 C605.8,500.4 602.4,497.0 600.0,493.0 C597.6,489.0 596.2,483.5 595.5,479.0 C594.8,474.5 595.2,470.0 596.0,466.0 C596.8,462.0 598.5,459.2 600.0,455.0Z" fill="#000" stroke="none" stroke-width="1" filter="url(#spk)" opacity="0.3"/>
<path d="M600.0,455.0 C601.5,450.8 602.8,445.0 605.0,441.0 C607.2,437.0 610.8,433.8 613.0,431.0 C615.2,428.2 615.5,425.0 618.0,424.0 C620.5,423.0 624.7,423.8 628.0,425.0 C631.3,426.2 634.3,428.8 638.0,431.0 C641.7,433.2 646.3,435.3 650.0,438.0 C653.7,440.7 657.2,443.3 660.0,447.0 C662.8,450.7 665.6,455.3 667.0,460.0 C668.4,464.7 668.8,470.0 668.5,475.0 C668.2,480.0 667.1,485.5 665.0,490.0 C662.9,494.5 660.0,499.0 656.0,502.0 C652.0,505.0 646.2,506.9 641.0,508.0 C635.8,509.1 630.2,509.3 625.0,508.5 C619.8,507.7 614.2,505.6 610.0,503.0 C605.8,500.4 602.4,497.0 600.0,493.0 C597.6,489.0 596.2,483.5 595.5,479.0 C594.8,474.5 595.2,470.0 596.0,466.0 C596.8,462.0 598.5,459.2 600.0,455.0Z" fill="#000" stroke="none" stroke-width="1" filter="url(#spkd)" opacity="0.3"/>
<path d="M612.0,452.0 C614.5,447.5 618.0,444.7 622.0,443.0 C626.0,441.3 631.7,441.2 636.0,442.0 C640.3,442.8 645.0,444.7 648.0,448.0 C651.0,451.3 653.3,456.7 654.0,462.0 C654.7,467.3 653.5,474.7 652.0,480.0 C650.5,485.3 648.3,490.7 645.0,494.0 C641.7,497.3 636.5,499.5 632.0,500.0 C627.5,500.5 621.7,499.3 618.0,497.0 C614.3,494.7 611.8,490.5 610.0,486.0 C608.2,481.5 606.7,475.7 607.0,470.0 C607.3,464.3 609.5,456.5 612.0,452.0Z" fill="#c070c8" stroke="none" stroke-width="1" filter="url(#blur2)" opacity="0.9"/>
<path d="M630.0,444.0 C630.2,445.8 631.3,451.3 631.0,455.0 C630.7,458.7 628.0,462.2 628.0,466.0 C628.0,469.8 630.0,474.0 631.0,478.0 C632.0,482.0 634.2,486.5 634.0,490.0 C633.8,493.5 630.7,497.5 630.0,499.0" fill="none" stroke="#fbf3fb" stroke-width="2.2" stroke-linecap="round" stroke-linejoin="round" />
<path d="M611.0,458.0 C612.2,457.5 615.5,455.2 618.0,455.0 C620.5,454.8 624.7,456.7 626.0,457.0" fill="none" stroke="#fbf3fb" stroke-width="2.2" stroke-linecap="round" stroke-linejoin="round" />
<path d="M630.0,453.0 C631.7,452.0 637.3,447.2 640.0,447.0 C642.7,446.8 645.0,451.2 646.0,452.0" fill="none" stroke="#fbf3fb" stroke-width="2.2" stroke-linecap="round" stroke-linejoin="round" />
<path d="M612.0,466.0 C613.3,466.7 617.3,470.0 620.0,470.0 C622.7,470.0 626.7,466.7 628.0,466.0" fill="none" stroke="#fbf3fb" stroke-width="2.2" stroke-linecap="round" stroke-linejoin="round" />
<path d="M631.0,478.0 C632.5,477.3 636.8,475.3 640.0,474.0 C643.2,472.7 648.3,470.7 650.0,470.0" fill="none" stroke="#fbf3fb" stroke-width="2.2" stroke-linecap="round" stroke-linejoin="round" />
<path d="M622.0,486.0 C623.0,487.0 626.0,491.3 628.0,492.0 C630.0,492.7 633.0,490.3 634.0,490.0" fill="none" stroke="#fbf3fb" stroke-width="2.2" stroke-linecap="round" stroke-linejoin="round" />
<path d="M636.0,488.0 C637.0,489.0 641.0,493.0 642.0,494.0" fill="none" stroke="#fbf3fb" stroke-width="2.2" stroke-linecap="round" stroke-linejoin="round" />
<path d="M616.0,476.0 C617.0,476.7 621.0,479.3 622.0,480.0" fill="none" stroke="#fbf3fb" stroke-width="2.2" stroke-linecap="round" stroke-linejoin="round" />
<line x1="662.0" y1="505.0" x2="673.0" y2="505.0" stroke="#222" stroke-width="1.8" />
<path d="M598.0,560.0 C599.3,554.3 601.7,549.5 604.0,546.0 C606.3,542.5 609.0,540.5 612.0,539.0 C615.0,537.5 618.0,537.2 622.0,537.0 C626.0,536.8 631.3,537.2 636.0,538.0 C640.7,538.8 645.7,539.7 650.0,542.0 C654.3,544.3 659.0,548.0 662.0,552.0 C665.0,556.0 666.7,561.0 668.0,566.0 C669.3,571.0 670.3,576.7 670.0,582.0 C669.7,587.3 668.0,594.0 666.0,598.0 C664.0,602.0 659.5,603.3 658.0,606.0 C656.5,608.7 658.7,612.2 657.0,614.0 C655.3,615.8 650.5,617.5 648.0,617.0 C645.5,616.5 645.3,611.8 642.0,611.0 C638.7,610.2 633.0,612.7 628.0,612.0 C623.0,611.3 616.5,609.7 612.0,607.0 C607.5,604.3 603.7,600.5 601.0,596.0 C598.3,591.5 596.5,586.0 596.0,580.0 C595.5,574.0 596.7,565.7 598.0,560.0Z" fill="#da97dc" stroke="none" stroke-width="1" />
<path d="M598.0,560.0 C599.3,554.3 601.7,549.5 604.0,546.0 C606.3,542.5 609.0,540.5 612.0,539.0 C615.0,537.5 618.0,537.2 622.0,537.0 C626.0,536.8 631.3,537.2 636.0,538.0 C640.7,538.8 645.7,539.7 650.0,542.0 C654.3,544.3 659.0,548.0 662.0,552.0 C665.0,556.0 666.7,561.0 668.0,566.0 C669.3,571.0 670.3,576.7 670.0,582.0 C669.7,587.3 668.0,594.0 666.0,598.0 C664.0,602.0 659.5,603.3 658.0,606.0 C656.5,608.7 658.7,612.2 657.0,614.0 C655.3,615.8 650.5,617.5 648.0,617.0 C645.5,616.5 645.3,611.8 642.0,611.0 C638.7,610.2 633.0,612.7 628.0,612.0 C623.0,611.3 616.5,609.7 612.0,607.0 C607.5,604.3 603.7,600.5 601.0,596.0 C598.3,591.5 596.5,586.0 596.0,580.0 C595.5,574.0 596.7,565.7 598.0,560.0Z" fill="#000" stroke="none" stroke-width="1" filter="url(#spk)" opacity="0.3"/>
<path d="M598.0,560.0 C599.3,554.3 601.7,549.5 604.0,546.0 C606.3,542.5 609.0,540.5 612.0,539.0 C615.0,537.5 618.0,537.2 622.0,537.0 C626.0,536.8 631.3,537.2 636.0,538.0 C640.7,538.8 645.7,539.7 650.0,542.0 C654.3,544.3 659.0,548.0 662.0,552.0 C665.0,556.0 666.7,561.0 668.0,566.0 C669.3,571.0 670.3,576.7 670.0,582.0 C669.7,587.3 668.0,594.0 666.0,598.0 C664.0,602.0 659.5,603.3 658.0,606.0 C656.5,608.7 658.7,612.2 657.0,614.0 C655.3,615.8 650.5,617.5 648.0,617.0 C645.5,616.5 645.3,611.8 642.0,611.0 C638.7,610.2 633.0,612.7 628.0,612.0 C623.0,611.3 616.5,609.7 612.0,607.0 C607.5,604.3 603.7,600.5 601.0,596.0 C598.3,591.5 596.5,586.0 596.0,580.0 C595.5,574.0 596.7,565.7 598.0,560.0Z" fill="#000" stroke="none" stroke-width="1" filter="url(#spkd)" opacity="0.3"/>
<path d="M604.0,560.0 C605.7,554.3 609.7,552.0 614.0,550.0 C618.3,548.0 624.8,547.5 630.0,548.0 C635.2,548.5 641.3,550.0 645.0,553.0 C648.7,556.0 650.8,560.8 652.0,566.0 C653.2,571.2 653.3,578.7 652.0,584.0 C650.7,589.3 648.0,594.8 644.0,598.0 C640.0,601.2 633.3,603.0 628.0,603.0 C622.7,603.0 616.0,601.2 612.0,598.0 C608.0,594.8 605.3,590.3 604.0,584.0 C602.7,577.7 602.3,565.7 604.0,560.0Z" fill="#c272c9" stroke="none" stroke-width="1" filter="url(#blur2)" opacity="0.9"/>
<path d="M608.0,560.0 C609.3,559.3 613.7,556.3 616.0,556.0 C618.3,555.7 621.3,556.3 622.0,558.0 C622.7,559.7 621.7,563.3 620.0,566.0 C618.3,568.7 614.3,571.7 612.0,574.0 C609.7,576.3 607.0,579.0 606.0,580.0" fill="none" stroke="#fbf3fb" stroke-width="2.6" stroke-linecap="round" stroke-linejoin="round" />
<path d="M622.0,558.0 C623.3,557.3 627.3,554.3 630.0,554.0 C632.7,553.7 636.7,555.7 638.0,556.0" fill="none" stroke="#fbf3fb" stroke-width="2.6" stroke-linecap="round" stroke-linejoin="round" />
<path d="M620.0,566.0 C621.0,567.3 624.7,571.0 626.0,574.0 C627.3,577.0 627.0,581.0 628.0,584.0 C629.0,587.0 630.3,589.7 632.0,592.0 C633.7,594.3 637.0,597.0 638.0,598.0" fill="none" stroke="#fbf3fb" stroke-width="2.6" stroke-linecap="round" stroke-linejoin="round" />
<path d="M608.0,586.0 C609.3,586.7 613.7,588.0 616.0,590.0 C618.3,592.0 621.0,596.7 622.0,598.0" fill="none" stroke="#fbf3fb" stroke-width="2.6" stroke-linecap="round" stroke-linejoin="round" />
<path d="M626.0,574.0 C627.3,574.7 631.7,576.3 634.0,578.0 C636.3,579.7 639.0,583.0 640.0,584.0" fill="none" stroke="#fbf3fb" stroke-width="2.6" stroke-linecap="round" stroke-linejoin="round" />
<path d="M614.0,574.0 C615.0,574.7 619.0,577.3 620.0,578.0" fill="none" stroke="#fbf3fb" stroke-width="2.6" stroke-linecap="round" stroke-linejoin="round" />
<path d="M645.0,568.0 C645.3,569.7 647.0,575.2 647.0,578.0 C647.0,580.8 645.3,583.8 645.0,585.0" fill="none" stroke="#fbf3fb" stroke-width="2.6" stroke-linecap="round" stroke-linejoin="round" />
<path d="M630.0,592.0 C629.0,593.0 625.0,597.0 624.0,598.0" fill="none" stroke="#fbf3fb" stroke-width="2.6" stroke-linecap="round" stroke-linejoin="round" />
<line x1="662.0" y1="614.7" x2="673.0" y2="614.7" stroke="#222" stroke-width="1.8" />
<rect x="640.0" y="447.0" width="34.0" height="31.4" fill="none" stroke="#888" stroke-width="0.7" />
<line x1="674.0" y1="447.0" x2="693.8" y2="429.4" stroke="#999" stroke-width="0.7" />
<line x1="674.0" y1="478.4" x2="693.8" y2="508.5" stroke="#999" stroke-width="0.7" />
<rect x="640.0" y="556.0" width="40.0" height="30.5" fill="none" stroke="#888" stroke-width="0.7" />
<line x1="680.0" y1="556.0" x2="694.4" y2="533.7" stroke="#999" stroke-width="0.7" />
<line x1="680.0" y1="586.5" x2="694.4" y2="614.7" stroke="#999" stroke-width="0.7" />
<path d="M693.8,429.4 L749,429.4 C765,436 778,450 783.6,466.5 L783.6,508.5 L693.8,508.5 Z" fill="#e3b2e6" stroke="none" stroke-width="1" />
<path d="M693.8,429.4 L749,429.4 C765,436 778,450 783.6,466.5 L783.6,508.5 L693.8,508.5 Z" fill="#000" stroke="none" stroke-width="1" filter="url(#spk)" opacity="0.45"/>
<path d="M693.8,429.4 L749,429.4 C765,436 778,450 783.6,466.5 L783.6,508.5 L693.8,508.5 Z" fill="#000" stroke="none" stroke-width="1" filter="url(#spkd)" opacity="0.45"/>
<path d="M693.8,429.4 L730,429.4 C742,436 750,452 752,470 C754,485 754,498 752,508.5 L693.8,508.5 Z" fill="#c272cb" stroke="none" stroke-width="1" />
<path d="M693.8,429.4 L730,429.4 C742,436 750,452 752,470 C754,485 754,498 752,508.5 L693.8,508.5 Z" fill="#000" stroke="none" stroke-width="1" filter="url(#spk)" opacity="0.45"/>
<path d="M693.8,429.4 L730,429.4 C742,436 750,452 752,470 C754,485 754,498 752,508.5 L693.8,508.5 Z" fill="#000" stroke="none" stroke-width="1" filter="url(#spkd)" opacity="0.45"/>
<clipPath id="cpe1"><path d="M693.8,429.4 L749,429.4 C765,436 778,450 783.6,466.5 L783.6,508.5 L693.8,508.5 Z"/></clipPath><g clip-path="url(#cpe1)">
<path d="M754.0,432.0 C754.7,438.3 757.2,457.7 758.0,470.0 C758.8,482.3 758.8,500.0 759.0,506.0" fill="none" stroke="#f6e6f8" stroke-width="0.9" stroke-linecap="round" stroke-linejoin="round" opacity="0.8"/>
<path d="M758.2,434.0 C758.9,440.0 761.4,458.0 762.2,470.0 C763.0,482.0 763.0,500.0 763.2,506.0" fill="none" stroke="#f6e6f8" stroke-width="0.9" stroke-linecap="round" stroke-linejoin="round" opacity="0.8"/>
<path d="M762.4,436.0 C763.1,441.7 765.6,458.3 766.4,470.0 C767.2,481.7 767.2,500.0 767.4,506.0" fill="none" stroke="#f6e6f8" stroke-width="0.9" stroke-linecap="round" stroke-linejoin="round" opacity="0.8"/>
<path d="M766.6,438.0 C767.3,443.3 769.8,458.7 770.6,470.0 C771.4,481.3 771.4,500.0 771.6,506.0" fill="none" stroke="#f6e6f8" stroke-width="0.9" stroke-linecap="round" stroke-linejoin="round" opacity="0.8"/>
<path d="M770.8,440.0 C771.5,445.0 774.0,459.0 774.8,470.0 C775.6,481.0 775.6,500.0 775.8,506.0" fill="none" stroke="#f6e6f8" stroke-width="0.9" stroke-linecap="round" stroke-linejoin="round" opacity="0.8"/>
<path d="M775.0,442.0 C775.7,446.7 778.2,459.3 779.0,470.0 C779.8,480.7 779.8,500.0 780.0,506.0" fill="none" stroke="#f6e6f8" stroke-width="0.9" stroke-linecap="round" stroke-linejoin="round" opacity="0.8"/>
</g>
<path d="M700,452 C710,445 725,444 735,450 C745,458 748,472 745,486 C740,498 728,502 715,500 C705,496 700,480 700,470 Z" fill="#b35cbf" stroke="none" stroke-width="1" opacity="0.45"/>
<path d="M703.8,445.0 C704.2,446.2 705.3,449.5 706.0,452.0 C706.7,454.5 708.0,457.5 708.0,460.0 C708.0,462.5 707.5,465.0 706.0,467.0 C704.5,469.0 700.2,471.2 699.0,472.0" fill="none" stroke="#fff" stroke-width="2.8" stroke-linecap="round" stroke-linejoin="round" />
<path d="M706.0,456.0 C707.3,456.0 711.8,455.3 714.0,456.0 C716.2,456.7 718.2,459.3 719.0,460.0" fill="none" stroke="#fff" stroke-width="2.8" stroke-linecap="round" stroke-linejoin="round" />
<path d="M696.3,474.0 C696.4,476.0 696.4,482.2 697.0,486.0 C697.6,489.8 699.5,495.2 700.0,497.0" fill="none" stroke="#fff" stroke-width="2.8" stroke-linecap="round" stroke-linejoin="round" />
<path d="M694.0,504.0 C695.8,503.3 701.8,501.3 705.0,500.0 C708.2,498.7 710.2,497.3 713.0,496.0 C715.8,494.7 718.9,493.4 722.0,492.0 C725.1,490.6 729.9,488.5 731.5,487.8" fill="none" stroke="#fff" stroke-width="2.8" stroke-linecap="round" stroke-linejoin="round" />
<path d="M722.0,492.0 C722.7,493.0 725.3,497.0 726.0,498.0" fill="none" stroke="#fff" stroke-width="2.8" stroke-linecap="round" stroke-linejoin="round" />
<path d="M736.0,470.0 C736.7,470.7 739.3,473.3 740.0,474.0" fill="none" stroke="#fff" stroke-width="2.8" stroke-linecap="round" stroke-linejoin="round" />
<path d="M723.7,450.6 L718.2,444.7 L723.2,442.5 Z" fill="#111" stroke="none" stroke-width="1" />
<path d="M733.3,447.1 L730.6,439.4 L736.1,439.5 Z" fill="#111" stroke="none" stroke-width="1" />
<path d="M741.9,447.5 L742.0,439.4 L747.1,441.3 Z" fill="#111" stroke="none" stroke-width="1" />
<path d="M745.4,458.3 L748.6,450.9 L752.6,454.5 Z" fill="#111" stroke="none" stroke-width="1" />
<path d="M743.4,469.0 L750.0,464.3 L751.5,469.5 Z" fill="#111" stroke="none" stroke-width="1" />
<path d="M724.6,473.5 L717.5,477.6 L716.6,472.2 Z" fill="#111" stroke="none" stroke-width="1" />
<path d="M745.2,482.3 L752.8,485.2 L749.3,489.3 Z" fill="#111" stroke="none" stroke-width="1" />
<path d="M750.8,486.7 L758.4,489.5 L754.9,493.7 Z" fill="#111" stroke="none" stroke-width="1" />
<path d="M754.3,496.0 L761.4,499.9 L757.3,503.5 Z" fill="#111" stroke="none" stroke-width="1" />
<path d="M739.1,501.6 L743.3,508.5 L738.0,509.6 Z" fill="#111" stroke="none" stroke-width="1" />
<line x1="752.8" y1="504.6" x2="778.0" y2="504.6" stroke="#111" stroke-width="1.8" />
<path d="M694.4,533.7 L767.9,533.7 L783,559.4 L783,614.7 L694.4,614.7 Z" fill="#d690d8" stroke="none" stroke-width="1" />
<path d="M694.4,533.7 L767.9,533.7 L783,559.4 L783,614.7 L694.4,614.7 Z" fill="#000" stroke="none" stroke-width="1" filter="url(#spk)" opacity="0.45"/>
<path d="M694.4,533.7 L767.9,533.7 L783,559.4 L783,614.7 L694.4,614.7 Z" fill="#000" stroke="none" stroke-width="1" filter="url(#spkd)" opacity="0.45"/>
<path d="M694.4,533.7 L730,533.7 C728,560 735,590 740,614.7 L694.4,614.7 Z" fill="#c46ccc" stroke="none" stroke-width="1" />
<path d="M694.4,533.7 L730,533.7 C728,560 735,590 740,614.7 L694.4,614.7 Z" fill="#000" stroke="none" stroke-width="1" filter="url(#spk)" opacity="0.45"/>
<path d="M694.4,533.7 L730,533.7 C728,560 735,590 740,614.7 L694.4,614.7 Z" fill="#000" stroke="none" stroke-width="1" filter="url(#spkd)" opacity="0.45"/>
<path d="M748.0,556.0 C747.7,559.2 746.0,568.5 746.0,575.0 C746.0,581.5 747.3,588.8 748.0,595.0 C748.7,601.2 749.7,609.2 750.0,612.0" fill="none" stroke="#f0d8f2" stroke-width="2.5" stroke-linecap="round" stroke-linejoin="round" />
<path d="M766.0,540.0 C766.3,544.2 767.0,556.7 768.0,565.0 C769.0,573.3 770.7,582.2 772.0,590.0 C773.3,597.8 775.3,608.3 776.0,612.0" fill="none" stroke="#f4e4f4" stroke-width="1.6" stroke-linecap="round" stroke-linejoin="round" />
<path d="M715.0,562.0 C714.3,563.7 712.5,568.7 711.0,572.0 C709.5,575.3 707.8,579.0 706.0,582.0 C704.2,585.0 701.8,587.9 700.0,590.0 C698.2,592.1 695.8,593.8 695.0,594.6" fill="none" stroke="#fff" stroke-width="3.2" stroke-linecap="round" stroke-linejoin="round" />
<path d="M695.0,607.0 C696.5,606.8 700.7,606.4 704.0,606.0 C707.3,605.6 713.2,604.8 715.0,604.6" fill="none" stroke="#fff" stroke-width="2.6" stroke-linecap="round" stroke-linejoin="round" />
<path d="M699.0,550.0 C699.5,551.0 701.5,555.0 702.0,556.0" fill="none" stroke="#fff" stroke-width="1.8" stroke-linecap="round" stroke-linejoin="round" />
<path d="M708.8,537.4 L716.4,534.7 L716.4,540.1 Z" fill="#111" stroke="none" stroke-width="1" />
<path d="M716.4,549.5 L724.0,546.8 L724.0,552.2 Z" fill="#111" stroke="none" stroke-width="1" />
<path d="M707.6,552.0 L700.0,554.7 L700.0,549.3 Z" fill="#111" stroke="none" stroke-width="1" />
<path d="M723.3,570.8 L720.6,563.2 L726.0,563.2 Z" fill="#111" stroke="none" stroke-width="1" />
<path d="M734.3,572.7 L739.3,566.3 L742.2,570.9 Z" fill="#111" stroke="none" stroke-width="1" />
<path d="M718.4,578.7 L710.4,580.2 L711.3,574.8 Z" fill="#111" stroke="none" stroke-width="1" />
<path d="M734.0,580.1 L740.8,575.7 L742.0,581.0 Z" fill="#111" stroke="none" stroke-width="1" />
<path d="M715.2,592.0 L707.6,594.7 L707.6,589.3 Z" fill="#111" stroke="none" stroke-width="1" />
<path d="M740.4,596.3 L746.3,590.7 L748.5,595.6 Z" fill="#111" stroke="none" stroke-width="1" />
<path d="M719.0,599.6 L711.4,602.3 L711.4,596.9 Z" fill="#111" stroke="none" stroke-width="1" />
<line x1="754.0" y1="607.4" x2="778.0" y2="607.4" stroke="#111" stroke-width="1.8" />
<text x="180.7" y="659.2" font-size="16.5" text-anchor="start" fill="#111" font-weight="bold"  >G</text>
<path d="M258,665.4 L195.6,665.4 L195.6,822 L586.7,822 L586.7,665.4 L500,665.4" fill="none" stroke="#e2e2e2" stroke-width="1" />
<line x1="308.0" y1="665.4" x2="450.0" y2="665.4" stroke="#e2e2e2" stroke-width="1" />
<text x="283.3" y="668.0" font-size="11.5" text-anchor="middle" fill="#2a2a2a" font-weight="normal" stroke="#2a2a2a" stroke-width="0.32" >Ovary</text>
<text x="475.2" y="666.6" font-size="11.5" text-anchor="middle" fill="#2a2a2a" font-weight="normal" stroke="#2a2a2a" stroke-width="0.32" >Cervix</text>
<rect x="187.0" y="677.5" width="12.0" height="52.0" fill="#fff" stroke="none" stroke-width="1" />
<text transform="translate(196.2,703.5) rotate(-90)" font-size="11.5" text-anchor="middle" fill="#2a2a2a" stroke="#2a2a2a" stroke-width="0.32">Control</text>
<rect x="187.0" y="761.0" width="12.0" height="52.0" fill="#fff" stroke="none" stroke-width="1" />
<text transform="translate(196.2,787.0) rotate(-90)" font-size="11.5" text-anchor="middle" fill="#2a2a2a" stroke="#2a2a2a" stroke-width="0.32">CervPlug</text>
<path d="M205,712 C204,698 210,684 224,677 C238,671 256,670 270,673 C281,677 287,690 286,705 C286,716 284,724 280,730 C270,732 262,733 258,726 C255,722 252,728 246,732 C232,734 218,732 210,728 C206,724 205,718 205,712 Z" fill="#b48bcf" stroke="none" stroke-width="1" />
<path d="M205,712 C204,698 210,684 224,677 C238,671 256,670 270,673 C281,677 287,690 286,705 C286,716 284,724 280,730 C270,732 262,733 258,726 C255,722 252,728 246,732 C232,734 218,732 210,728 C206,724 205,718 205,712 Z" fill="#000" stroke="none" stroke-width="1" filter="url(#spk)" opacity="0.45"/>
<path d="M205,712 C204,698 210,684 224,677 C238,671 256,670 270,673 C281,677 287,690 286,705 C286,716 284,724 280,730 C270,732 262,733 258,726 C255,722 252,728 246,732 C232,734 218,732 210,728 C206,724 205,718 205,712 Z" fill="#000" stroke="none" stroke-width="1" filter="url(#spkd)" opacity="0.45"/>
<circle cx="214.0" cy="690.0" r="4.5" fill="#cfaee0" stroke="#9462b6" stroke-width="1.4" />
<circle cx="214.0" cy="690.0" r="1.6" fill="#efe2f4" stroke="none" stroke-width="1" />
<circle cx="228.0" cy="684.0" r="3.5" fill="#cfaee0" stroke="#9462b6" stroke-width="1.4" />
<circle cx="228.0" cy="684.0" r="1.2" fill="#efe2f4" stroke="none" stroke-width="1" />
<circle cx="243.0" cy="680.0" r="3.0" fill="#cfaee0" stroke="#9462b6" stroke-width="1.4" />
<circle cx="243.0" cy="680.0" r="1.0" fill="#efe2f4" stroke="none" stroke-width="1" />
<circle cx="258.0" cy="683.0" r="3.0" fill="#cfaee0" stroke="#9462b6" stroke-width="1.4" />
<circle cx="258.0" cy="683.0" r="1.0" fill="#efe2f4" stroke="none" stroke-width="1" />
<circle cx="272.0" cy="690.0" r="4.0" fill="#cfaee0" stroke="#9462b6" stroke-width="1.4" />
<circle cx="272.0" cy="690.0" r="1.4" fill="#efe2f4" stroke="none" stroke-width="1" />
<circle cx="281.0" cy="705.0" r="4.5" fill="#cfaee0" stroke="#9462b6" stroke-width="1.4" />
<circle cx="281.0" cy="705.0" r="1.6" fill="#efe2f4" stroke="none" stroke-width="1" />
<circle cx="218.0" cy="712.0" r="6.0" fill="#cfaee0" stroke="#9462b6" stroke-width="1.4" />
<circle cx="218.0" cy="712.0" r="2.1" fill="#efe2f4" stroke="none" stroke-width="1" />
<circle cx="236.0" cy="721.0" r="5.5" fill="#cfaee0" stroke="#9462b6" stroke-width="1.4" />
<circle cx="236.0" cy="721.0" r="1.9" fill="#efe2f4" stroke="none" stroke-width="1" />
<circle cx="252.0" cy="700.0" r="4.0" fill="#cfaee0" stroke="#9462b6" stroke-width="1.4" />
<circle cx="252.0" cy="700.0" r="1.4" fill="#efe2f4" stroke="none" stroke-width="1" />
<circle cx="268.0" cy="712.0" r="5.5" fill="#cfaee0" stroke="#9462b6" stroke-width="1.4" />
<circle cx="268.0" cy="712.0" r="1.9" fill="#efe2f4" stroke="none" stroke-width="1" />
<circle cx="230.0" cy="698.0" r="3.5" fill="#cfaee0" stroke="#9462b6" stroke-width="1.4" />
<circle cx="230.0" cy="698.0" r="1.2" fill="#efe2f4" stroke="none" stroke-width="1" />
<circle cx="245.0" cy="712.0" r="3.5" fill="#cfaee0" stroke="#9462b6" stroke-width="1.4" />
<circle cx="245.0" cy="712.0" r="1.2" fill="#efe2f4" stroke="none" stroke-width="1" />
<circle cx="262.0" cy="690.0" r="3.0" fill="#cfaee0" stroke="#9462b6" stroke-width="1.4" />
<circle cx="262.0" cy="690.0" r="1.0" fill="#efe2f4" stroke="none" stroke-width="1" />
<path d="M256,718 C258,722 260,726 262,732 L252,732 C254,726 255,722 256,718 Z" fill="#f6eef8" stroke="none" stroke-width="1" />
<line x1="271.0" y1="730.0" x2="281.0" y2="730.0" stroke="#222" stroke-width="1.8" />
<path d="M297,671.8 L365,671.8 L365,732 L297,732 Z" fill="#9a60bc" stroke="none" stroke-width="1" />
<path d="M297,671.8 L365,671.8 L365,732 L297,732 Z" fill="#000" stroke="none" stroke-width="1" filter="url(#spk)" opacity="0.55"/>
<path d="M297,671.8 L365,671.8 L365,732 L297,732 Z" fill="#000" stroke="none" stroke-width="1" filter="url(#spkd)" opacity="0.55"/>
<circle cx="324.4" cy="709.3" r="12.8" fill="#f6ecf8" stroke="none" stroke-width="1" />
<circle cx="324.4" cy="709.3" r="8.8" fill="#e0a2d8" stroke="none" stroke-width="1" />
<circle cx="339.5" cy="684.4" r="5.2" fill="#d2a8dc" stroke="none" stroke-width="1" />
<path d="M350,690 C356,694 360,702 358,710 C356,718 352,724 350,728 L346,722 C350,714 352,706 348,696 Z" fill="#f0e2f4" stroke="none" stroke-width="1" />
<path d="M203,790 C203,772 215,760 245,758 C270,756 285,768 288,780" fill="none" stroke="#cfb6dc" stroke-width="0.8" />
<path d="M205,795 C205,775 222,764 245,763 C268,763 286,772 287,790 C288,800 287,810 285,815 L260,816 C245,818 225,820 210,818 C206,810 205,802 205,795 Z" fill="#9d6cc3" stroke="none" stroke-width="1" />
<path d="M205,795 C205,775 222,764 245,763 C268,763 286,772 287,790 C288,800 287,810 285,815 L260,816 C245,818 225,820 210,818 C206,810 205,802 205,795 Z" fill="#000" stroke="none" stroke-width="1" filter="url(#spk)" opacity="0.45"/>
<path d="M205,795 C205,775 222,764 245,763 C268,763 286,772 287,790 C288,800 287,810 285,815 L260,816 C245,818 225,820 210,818 C206,810 205,802 205,795 Z" fill="#000" stroke="none" stroke-width="1" filter="url(#spkd)" opacity="0.45"/>
<circle cx="216.0" cy="778.0" r="2.5" fill="#d8c0e6" stroke="none" stroke-width="1" />
<circle cx="228.0" cy="772.0" r="2.0" fill="#d8c0e6" stroke="none" stroke-width="1" />
<circle cx="246.0" cy="770.0" r="2.2" fill="#d8c0e6" stroke="none" stroke-width="1" />
<circle cx="262.0" cy="774.0" r="2.0" fill="#d8c0e6" stroke="none" stroke-width="1" />
<circle cx="276.0" cy="782.0" r="2.5" fill="#d8c0e6" stroke="none" stroke-width="1" />
<circle cx="222.0" cy="792.0" r="2.4" fill="#d8c0e6" stroke="none" stroke-width="1" />
<circle cx="238.0" cy="786.0" r="2.0" fill="#d8c0e6" stroke="none" stroke-width="1" />
<circle cx="254.0" cy="790.0" r="2.6" fill="#d8c0e6" stroke="none" stroke-width="1" />
<circle cx="270.0" cy="796.0" r="2.2" fill="#d8c0e6" stroke="none" stroke-width="1" />
<circle cx="214.0" cy="805.0" r="2.0" fill="#d8c0e6" stroke="none" stroke-width="1" />
<circle cx="282.0" cy="800.0" r="2.0" fill="#d8c0e6" stroke="none" stroke-width="1" />
<circle cx="232.0" cy="804.0" r="2.2" fill="#d8c0e6" stroke="none" stroke-width="1" />
<circle cx="262.0" cy="806.0" r="2.0" fill="#d8c0e6" stroke="none" stroke-width="1" />
<path d="M240,818 L244,803 L248,818 M255,816 L262,800 L266,816" fill="#f3e6f6" stroke="none" stroke-width="1" />
<path d="M236,822 C246,814 266,812 288,818 L288,822 Z" fill="#e7b9e3" stroke="none" stroke-width="1" />
<line x1="276.5" y1="817.5" x2="285.5" y2="817.5" stroke="#222" stroke-width="1.8" />
<path d="M297,759 L365,759 L365,819.7 L297,819.7 Z" fill="#9a5fbe" stroke="none" stroke-width="1" />
<path d="M297,759 L365,759 L365,819.7 L297,819.7 Z" fill="#000" stroke="none" stroke-width="1" filter="url(#spk)" opacity="0.5"/>
<path d="M297,759 L365,759 L365,819.7 L297,819.7 Z" fill="#000" stroke="none" stroke-width="1" filter="url(#spkd)" opacity="0.5"/>
<circle cx="311.6" cy="776.3" r="11.5" fill="#e8c4ea" stroke="none" stroke-width="1" />
<circle cx="311.6" cy="776.3" r="7.5" fill="#dcaad8" stroke="none" stroke-width="1" />
<circle cx="310.0" cy="777.0" r="1.2" fill="#7a3a80" stroke="none" stroke-width="1" />
<circle cx="346.2" cy="789.3" r="12.5" fill="#f6eaf8" stroke="none" stroke-width="1" />
<circle cx="346.2" cy="789.3" r="8.5" fill="#e4a3dc" stroke="none" stroke-width="1" />
<path d="M332,806 C336,808 342,812 346,817" fill="none" stroke="#f2e6f4" stroke-width="3.2" />
<path d="M389,705 C388,690 398,678 412,678 C420,672 432,670 440,678 C452,680 462,690 466,705 C468,718 464,728 458,732 L420,734 C405,733 392,725 389,705 Z" fill="#da9fdc" stroke="none" stroke-width="1" />
<path d="M389,705 C388,690 398,678 412,678 C420,672 432,670 440,678 C452,680 462,690 466,705 C468,718 464,728 458,732 L420,734 C405,733 392,725 389,705 Z" fill="#000" stroke="none" stroke-width="1" filter="url(#spk)" opacity="0.35"/>
<path d="M389,705 C388,690 398,678 412,678 C420,672 432,670 440,678 C452,680 462,690 466,705 C468,718 464,728 458,732 L420,734 C405,733 392,725 389,705 Z" fill="#000" stroke="none" stroke-width="1" filter="url(#spkd)" opacity="0.35"/>
<path d="M410,690 C420,686 430,686 440,690 C442,702 438,714 432,722 C420,726 410,722 404,712 C404,702 406,694 410,690 Z" fill="#c982cc" stroke="none" stroke-width="1" opacity="0.7"/>
<path d="M405,697 L412,710 L403,716 Z M418,699 L424,700 L421,716 Z M436,697 L440,713 L445,700 Z" fill="#fff" stroke="none" stroke-width="1" />
<circle cx="432.0" cy="681.0" r="6.0" fill="none" stroke="#c87fcb" stroke-width="2" />
<line x1="448.0" y1="726.0" x2="465.0" y2="726.0" stroke="#222" stroke-width="1.8" />
<path d="M474,675.2 L583.8,675.2 L583.8,732 L474,732 Z" fill="#dfa8df" stroke="none" stroke-width="1" />
<path d="M474,675.2 L583.8,675.2 L583.8,732 L474,732 Z" fill="#000" stroke="none" stroke-width="1" filter="url(#spk)" opacity="0.45"/>
<path d="M474,675.2 L583.8,675.2 L583.8,732 L474,732 Z" fill="#000" stroke="none" stroke-width="1" filter="url(#spkd)" opacity="0.45"/>
<path d="M474,732 L474,712 C480,700 488,688 497,686 C506,688 512,704 521,708 C530,704 540,688 550,686 C560,690 566,704 576,716 L583.8,722 L583.8,732 Z" fill="#c676ca" stroke="none" stroke-width="1" opacity="0.85"/>
<path d="M474,716 C480,702 488,690 497,688 C506,690 512,706 521,710 C530,706 540,690 550,688 C560,692 566,706 578,720" fill="none" stroke="#a443b4" stroke-width="7" opacity="0.85"/>
<path d="M484,720 C495,716 510,716 519,721 C523,725 525,729 526,732 L538,732 C540,727 545,721 553,718 C562,715 572,717 579,720 L577,724 C568,721 558,722 551,725 C546,728 543,730 542,732 L522,732 C519,728 513,724 505,722 C496,721 490,722 484,724 Z" fill="#fff" stroke="none" stroke-width="1" />
<line x1="571.0" y1="728.5" x2="581.0" y2="728.5" stroke="#222" stroke-width="1.8" />
<path d="M395,787 C394,768 404,755 420,755 C440,752 458,760 465,775 C468,790 466,805 460,812 C450,818 440,819 430,815 C420,819 408,818 400,810 C396,802 395,795 395,787 Z" fill="#dc9fdf" stroke="none" stroke-width="1" />
<path d="M395,787 C394,768 404,755 420,755 C440,752 458,760 465,775 C468,790 466,805 460,812 C450,818 440,819 430,815 C420,819 408,818 400,810 C396,802 395,795 395,787 Z" fill="#000" stroke="none" stroke-width="1" filter="url(#spk)" opacity="0.35"/>
<path d="M395,787 C394,768 404,755 420,755 C440,752 458,760 465,775 C468,790 466,805 460,812 C450,818 440,819 430,815 C420,819 408,818 400,810 C396,802 395,795 395,787 Z" fill="#000" stroke="none" stroke-width="1" filter="url(#spkd)" opacity="0.35"/>
<path d="M404,773 L418,772 L416,784 L426,790 L414,800 L402,795 L408,785 Z" fill="#fff" stroke="none" stroke-width="1" />
<path d="M424,768 L432,768 L430,785 L426,785 Z M440,770 L452,775 L453,795 L446,800 L440,788 Z" fill="#fff" stroke="none" stroke-width="1" />
<line x1="444.0" y1="807.5" x2="461.0" y2="807.5" stroke="#222" stroke-width="1.8" />
<path d="M474,762.4 L583.8,762.4 L583.8,819.6 L474,819.6 Z" fill="#d28ad4" stroke="none" stroke-width="1" />
<path d="M474,762.4 L583.8,762.4 L583.8,819.6 L474,819.6 Z" fill="#000" stroke="none" stroke-width="1" filter="url(#spk)" opacity="0.45"/>
<path d="M474,762.4 L583.8,762.4 L583.8,819.6 L474,819.6 Z" fill="#000" stroke="none" stroke-width="1" filter="url(#spkd)" opacity="0.45"/>
<path d="M476,819.6 C478,792 500,770 530,768 C556,768 576,786 582,819.6 Z" fill="#e8c0ea" stroke="none" stroke-width="1" opacity="0.45"/>
<path d="M484,819.6 C486,796 504,778 530,776 C552,776 570,792 574,819.6 Z" fill="#b656c2" stroke="none" stroke-width="1" opacity="0.85"/>
<path d="M494,802 C504,800 512,799 518,796 L519,788 L523,795 C528,797 534,797 538,794 L541,787 L543,796 C550,799 558,798 566,795 L560,801 C551,803 545,805 541,811 L538,819.6 L526,819.6 C523,812 516,806 508,804 Z" fill="#fff" stroke="none" stroke-width="1" />
<line x1="571.0" y1="813.5" x2="581.0" y2="813.5" stroke="#222" stroke-width="1.8" />
<text x="603.5" y="667.7" font-size="16.5" text-anchor="start" fill="#111" font-weight="bold"  >H</text>
<text x="631.4" y="666.7" font-size="11.5"><tspan fill="#4a66d6">DAPI</tspan><tspan fill="#555">/</tspan><tspan fill="#3dbd7e">TUNEL</tspan></text>
<text transform="translate(624.2,704.7) rotate(-90)" font-size="11.5" text-anchor="middle" fill="#2a2a2a" stroke="#2a2a2a" stroke-width="0.32">Control</text>
<text transform="translate(624.2,776.5) rotate(-90)" font-size="11.5" text-anchor="middle" fill="#2a2a2a" stroke="#2a2a2a" stroke-width="0.32">CervPlug</text>
<rect x="632.0" y="669.0" width="73.2" height="71.4" fill="#03040c" stroke="none" stroke-width="1" />
<rect x="709.6" y="669.0" width="73.2" height="71.4" fill="#03040c" stroke="none" stroke-width="1" />
<rect x="632.0" y="745.6" width="73.2" height="73.4" fill="#03040c" stroke="none" stroke-width="1" />
<rect x="709.6" y="745.6" width="73.2" height="73.4" fill="#03040c" stroke="none" stroke-width="1" />
<ellipse cx="668.5" cy="705" rx="35" ry="31.5" fill="#0c1668" stroke="#1d5a66" stroke-width="0.8"/>
<path d="M636,706 A32,28.5 0 1 0 700,706 A32,28.5 0 1 0 636,706 Z" fill="#1a2aa8" stroke="none" stroke-width="1" />
<path d="M636,706 A32,28.5 0 1 0 700,706 A32,28.5 0 1 0 636,706 Z" fill="#000" stroke="none" stroke-width="1" filter="url(#spkb)" opacity="0.35"/>
<path d="M650,702 C656,698 660,708 666,712 C672,716 678,708 686,712" fill="none" stroke="#080c48" stroke-width="3" />
<path d="M656,690 C662,694 668,688 674,692 C680,696 684,690 690,694" fill="none" stroke="#080c48" stroke-width="3" />
<path d="M648,716 C654,720 660,716 664,722" fill="none" stroke="#080c48" stroke-width="3" />
<path d="M672,722 C676,726 682,724 686,728" fill="none" stroke="#080c48" stroke-width="3" />
<rect x="679.3" y="696.4" width="16.7" height="17.4" fill="none" stroke="#aaa" stroke-width="0.7" />
<line x1="685.8" y1="735.2" x2="700.0" y2="735.2" stroke="#ddd" stroke-width="1.8" />
<path d="M709.6,669 L782.8,669 L782.8,740.4 L709.6,740.4 Z" fill="#0b1258" stroke="none" stroke-width="1" />
<path d="M709.6,669 L782.8,669 L782.8,740.4 L709.6,740.4 Z" fill="#000" stroke="none" stroke-width="1" filter="url(#spkb)" opacity="0.75"/>
<path d="M709.6,697 C718,693 730,696 737,706 C741,716 738,730 733,740.4 L709.6,740.4 Z" fill="#02030a" stroke="none" stroke-width="1" />
<path d="M711,704 C718,702 724,708 724,716 C724,726 720,734 716,740.4 L709.6,740.4 L709.6,706 Z" fill="#1a2ec8" stroke="none" stroke-width="1" />
<path d="M713,710 C716,710 718,716 717,722 C716,730 713,736 711,740" fill="none" stroke="#02030a" stroke-width="2.2" />
<circle cx="745.0" cy="690.0" r="0.9" fill="#4ad6b0" stroke="none" stroke-width="1" />
<circle cx="752.0" cy="698.0" r="0.9" fill="#4ad6b0" stroke="none" stroke-width="1" />
<circle cx="762.0" cy="702.0" r="0.9" fill="#4ad6b0" stroke="none" stroke-width="1" />
<circle cx="748.0" cy="724.0" r="0.9" fill="#4ad6b0" stroke="none" stroke-width="1" />
<circle cx="758.0" cy="728.0" r="0.9" fill="#4ad6b0" stroke="none" stroke-width="1" />
<circle cx="770.0" cy="712.0" r="0.9" fill="#4ad6b0" stroke="none" stroke-width="1" />
<circle cx="740.0" cy="712.0" r="0.9" fill="#4ad6b0" stroke="none" stroke-width="1" />
<circle cx="766.0" cy="690.0" r="0.9" fill="#4ad6b0" stroke="none" stroke-width="1" />
<line x1="767.0" y1="735.2" x2="781.0" y2="735.2" stroke="#ddd" stroke-width="1.8" />
<ellipse cx="667" cy="783" rx="34" ry="33" fill="#0c1668" stroke="#1d5a66" stroke-width="0.8"/>
<path d="M636,784 A31,30 0 1 0 698,784 A31,30 0 1 0 636,784 Z" fill="#1826a0" stroke="none" stroke-width="1" />
<path d="M636,784 A31,30 0 1 0 698,784 A31,30 0 1 0 636,784 Z" fill="#000" stroke="none" stroke-width="1" filter="url(#spkb)" opacity="0.35"/>
<path d="M652,778 C658,772 664,780 670,776 C676,772 680,780 686,776" fill="none" stroke="#080c48" stroke-width="3" />
<path d="M658,796 C664,800 670,794 676,800" fill="none" stroke="#080c48" stroke-width="3" />
<path d="M676,786 C680,790 686,788 690,792" fill="none" stroke="#080c48" stroke-width="3" />
<rect x="653.0" y="769.0" width="18.0" height="18.0" fill="none" stroke="#aaa" stroke-width="0.7" />
<line x1="684.0" y1="813.5" x2="704.0" y2="813.5" stroke="#ddd" stroke-width="1.8" />
<clipPath id="hbr"><rect x="709.6" y="745.6" width="73.2" height="73.4"/></clipPath><g clip-path="url(#hbr)">
<path d="M708,756 C714,750 722,752 726,760 C730,768 738,766 742,758 C746,750 756,750 760,756" fill="none" stroke="#1b2ed0" stroke-width="8" stroke-linecap="round"/>
<path d="M764,746 C768,754 776,756 784,752" fill="none" stroke="#1b2ed0" stroke-width="8" stroke-linecap="round"/>
<path d="M712,770 C718,764 726,770 728,780 C730,790 722,796 716,800 C710,806 714,814 720,820" fill="none" stroke="#1b2ed0" stroke-width="8" stroke-linecap="round"/>
<path d="M734,774 C742,770 750,774 752,782 C754,792 746,798 740,804 C736,810 740,816 746,820" fill="none" stroke="#1b2ed0" stroke-width="8" stroke-linecap="round"/>
<path d="M758,770 C764,764 772,768 774,776 C776,784 770,790 772,798 C774,806 782,808 786,804" fill="none" stroke="#1b2ed0" stroke-width="8" stroke-linecap="round"/>
<path d="M752,800 C758,796 764,800 764,808 C764,814 760,818 756,822" fill="none" stroke="#1b2ed0" stroke-width="8" stroke-linecap="round"/>
<path d="M726,806 C730,800 736,800 738,806" fill="none" stroke="#1b2ed0" stroke-width="8" stroke-linecap="round"/>
<path d="M770,818 C774,812 780,812 784,816" fill="none" stroke="#1b2ed0" stroke-width="8" stroke-linecap="round"/>
<path d="M744,745 C742,752 746,760 744,766" fill="none" stroke="#1b2ed0" stroke-width="8" stroke-linecap="round"/>
<path d="M708,756 C714,750 722,752 726,760 C730,768 738,766 742,758 C746,750 756,750 760,756" fill="none" stroke="#10209c" stroke-width="2.2" stroke-linecap="round"/>
<path d="M764,746 C768,754 776,756 784,752" fill="none" stroke="#10209c" stroke-width="2.2" stroke-linecap="round"/>
<path d="M712,770 C718,764 726,770 728,780 C730,790 722,796 716,800 C710,806 714,814 720,820" fill="none" stroke="#10209c" stroke-width="2.2" stroke-linecap="round"/>
<path d="M734,774 C742,770 750,774 752,782 C754,792 746,798 740,804 C736,810 740,816 746,820" fill="none" stroke="#10209c" stroke-width="2.2" stroke-linecap="round"/>
<path d="M758,770 C764,764 772,768 774,776 C776,784 770,790 772,798 C774,806 782,808 786,804" fill="none" stroke="#10209c" stroke-width="2.2" stroke-linecap="round"/>
<path d="M752,800 C758,796 764,800 764,808 C764,814 760,818 756,822" fill="none" stroke="#10209c" stroke-width="2.2" stroke-linecap="round"/>
<path d="M726,806 C730,800 736,800 738,806" fill="none" stroke="#10209c" stroke-width="2.2" stroke-linecap="round"/>
<path d="M770,818 C774,812 780,812 784,816" fill="none" stroke="#10209c" stroke-width="2.2" stroke-linecap="round"/>
<path d="M744,745 C742,752 746,760 744,766" fill="none" stroke="#10209c" stroke-width="2.2" stroke-linecap="round"/>
</g>
<line x1="767.0" y1="813.5" x2="781.0" y2="813.5" stroke="#ddd" stroke-width="1.8" />
<text x="525.3" y="170.5" font-size="16.5" text-anchor="start" fill="#111" font-weight="bold"  >C</text>
<rect x="585.4" y="177.6" width="96.5" height="161.4" fill="none" stroke="#cfcfcf" stroke-width="0.9" />
<rect x="696.2" y="177.6" width="45.5" height="161.4" fill="none" stroke="#cfcfcf" stroke-width="0.9" />
<line x1="581.9" y1="339.0" x2="585.4" y2="339.0" stroke="#999" stroke-width="0.9" />
<text x="576.5" y="343.3" font-size="12" text-anchor="end" fill="#2a2a2a" font-weight="normal" stroke="#2a2a2a" stroke-width="0.32" >0</text>
<line x1="581.9" y1="306.7" x2="585.4" y2="306.7" stroke="#999" stroke-width="0.9" />
<text x="576.5" y="311.0" font-size="12" text-anchor="end" fill="#2a2a2a" font-weight="normal" stroke="#2a2a2a" stroke-width="0.32" >20</text>
<line x1="581.9" y1="274.4" x2="585.4" y2="274.4" stroke="#999" stroke-width="0.9" />
<text x="576.5" y="278.8" font-size="12" text-anchor="end" fill="#2a2a2a" font-weight="normal" stroke="#2a2a2a" stroke-width="0.32" >40</text>
<line x1="581.9" y1="242.2" x2="585.4" y2="242.2" stroke="#999" stroke-width="0.9" />
<text x="576.5" y="246.5" font-size="12" text-anchor="end" fill="#2a2a2a" font-weight="normal" stroke="#2a2a2a" stroke-width="0.32" >60</text>
<line x1="581.9" y1="209.9" x2="585.4" y2="209.9" stroke="#999" stroke-width="0.9" />
<text x="576.5" y="214.2" font-size="12" text-anchor="end" fill="#2a2a2a" font-weight="normal" stroke="#2a2a2a" stroke-width="0.32" >80</text>
<line x1="581.9" y1="177.6" x2="585.4" y2="177.6" stroke="#999" stroke-width="0.9" />
<text x="576.5" y="181.9" font-size="12" text-anchor="end" fill="#2a2a2a" font-weight="normal" stroke="#2a2a2a" stroke-width="0.32" >100</text>
<line x1="583.3" y1="322.9" x2="585.4" y2="322.9" stroke="#999" stroke-width="0.8" />
<line x1="583.3" y1="290.6" x2="585.4" y2="290.6" stroke="#999" stroke-width="0.8" />
<line x1="583.3" y1="258.3" x2="585.4" y2="258.3" stroke="#999" stroke-width="0.8" />
<line x1="583.3" y1="226.0" x2="585.4" y2="226.0" stroke="#999" stroke-width="0.8" />
<line x1="583.3" y1="193.7" x2="585.4" y2="193.7" stroke="#999" stroke-width="0.8" />
<text transform="translate(553.0,251.4) rotate(-90)" font-size="11.5" text-anchor="middle" fill="#2a2a2a" stroke="#2a2a2a" stroke-width="0.32">Implantation rate (%)</text>
<rect x="599.5" y="266.4" width="26.8" height="72.6" fill="#a4b9cf" stroke="none" stroke-width="1" />
<rect x="640.2" y="234.1" width="27.2" height="104.9" fill="#c97e6f" stroke="none" stroke-width="1" />
<line x1="612.9" y1="280.9" x2="612.9" y2="251.8" stroke="#4a4a4a" stroke-width="0.9" />
<line x1="609.7" y1="251.8" x2="616.1" y2="251.8" stroke="#4a4a4a" stroke-width="0.9" />
<line x1="609.7" y1="280.9" x2="616.1" y2="280.9" stroke="#4a4a4a" stroke-width="0.9" />
<line x1="653.8" y1="245.4" x2="653.8" y2="222.8" stroke="#4a4a4a" stroke-width="0.9" />
<line x1="650.6" y1="222.8" x2="657.0" y2="222.8" stroke="#4a4a4a" stroke-width="0.9" />
<line x1="650.6" y1="245.4" x2="657.0" y2="245.4" stroke="#4a4a4a" stroke-width="0.9" />
<circle cx="612.9" cy="248.3" r="1.9" fill="#111" stroke="none" stroke-width="1" />
<circle cx="612.9" cy="258.3" r="1.9" fill="#111" stroke="none" stroke-width="1" />
<circle cx="606.9" cy="268.3" r="1.9" fill="#111" stroke="none" stroke-width="1" />
<circle cx="618.5" cy="268.3" r="1.9" fill="#111" stroke="none" stroke-width="1" />
<circle cx="612.9" cy="288.3" r="1.9" fill="#111" stroke="none" stroke-width="1" />
<circle cx="653.8" cy="217.9" r="1.9" fill="#111" stroke="none" stroke-width="1" />
<circle cx="653.8" cy="228.1" r="1.9" fill="#111" stroke="none" stroke-width="1" />
<circle cx="653.8" cy="238.4" r="1.9" fill="#111" stroke="none" stroke-width="1" />
<circle cx="659.9" cy="238.4" r="1.9" fill="#111" stroke="none" stroke-width="1" />
<circle cx="653.8" cy="248.3" r="1.9" fill="#111" stroke="none" stroke-width="1" />
<path d="M612.9,241.4 L612.9,201.2 L653.8,201.2 L653.8,213.9" fill="none" stroke="#777" stroke-width="0.8" />
<text x="633.5" y="199.0" font-size="8" text-anchor="middle" fill="#555" font-weight="normal" stroke="#555" stroke-width="0.32" >**</text>
<line x1="741.7" y1="339.0" x2="745.2" y2="339.0" stroke="#999" stroke-width="0.9" />
<text x="747.5" y="343.3" font-size="12" text-anchor="start" fill="#2a2a2a" font-weight="normal" stroke="#2a2a2a" stroke-width="0.32" >0.0</text>
<line x1="741.7" y1="298.6" x2="745.2" y2="298.6" stroke="#999" stroke-width="0.9" />
<text x="747.5" y="303.0" font-size="12" text-anchor="start" fill="#2a2a2a" font-weight="normal" stroke="#2a2a2a" stroke-width="0.32" >0.5</text>
<line x1="741.7" y1="258.3" x2="745.2" y2="258.3" stroke="#999" stroke-width="0.9" />
<text x="747.5" y="262.6" font-size="12" text-anchor="start" fill="#2a2a2a" font-weight="normal" stroke="#2a2a2a" stroke-width="0.32" >1.0</text>
<line x1="741.7" y1="217.9" x2="745.2" y2="217.9" stroke="#999" stroke-width="0.9" />
<text x="747.5" y="222.3" font-size="12" text-anchor="start" fill="#2a2a2a" font-weight="normal" stroke="#2a2a2a" stroke-width="0.32" >1.5</text>
<line x1="741.7" y1="177.6" x2="745.2" y2="177.6" stroke="#999" stroke-width="0.9" />
<text x="747.5" y="181.9" font-size="12" text-anchor="start" fill="#2a2a2a" font-weight="normal" stroke="#2a2a2a" stroke-width="0.32" >2.0</text>
<text transform="translate(775.5,269.0) rotate(90)" font-size="11.5" text-anchor="middle" fill="#2a2a2a" stroke="#2a2a2a" stroke-width="0.32">Times</text>
<rect x="707.5" y="219.6" width="22.0" height="119.4" fill="#c8a1bb" stroke="none" stroke-width="1" />
<line x1="718.7" y1="243.0" x2="718.7" y2="195.4" stroke="#777" stroke-width="0.9" />
<line x1="718.7" y1="195.4" x2="718.7" y2="195.4" stroke="#777" stroke-width="0.9" />
<line x1="718.7" y1="243.0" x2="718.7" y2="243.0" stroke="#777" stroke-width="0.9" />
<line x1="716.0" y1="243.0" x2="721.4" y2="243.0" stroke="#777" stroke-width="0.9" />
<line x1="716.0" y1="195.4" x2="721.4" y2="195.4" stroke="#777" stroke-width="0.9" />
<rect x="506.0" y="359.0" width="273.0" height="21.4" fill="none" stroke="#9a9a9a" stroke-width="0.8" stroke-dasharray="2,1.5"/>
<rect x="519.0" y="366.0" width="6.0" height="6.0" fill="#8ba6c2" stroke="none" stroke-width="1" />
<text x="530.4" y="374.4" font-size="11.5" text-anchor="start" fill="#2a2a2a" font-weight="normal" stroke="#2a2a2a" stroke-width="0.32" >Control</text>
<rect x="580.4" y="366.0" width="6.0" height="6.0" fill="#b85a4a" stroke="none" stroke-width="1" />
<text x="593.0" y="374.4" font-size="11.5" text-anchor="start" fill="#2a2a2a" font-weight="normal" stroke="#2a2a2a" stroke-width="0.32" >CervPlug</text>
<rect x="659.0" y="366.0" width="6.0" height="6.0" fill="#c9a2bc" stroke="none" stroke-width="1" />
<text x="671.5" y="374.4" font-size="11.5" text-anchor="start" fill="#2a2a2a" font-weight="normal" stroke="#2a2a2a" stroke-width="0.32" >Increase efficiency</text>
<text x="13.3" y="661.7" font-size="16.5" text-anchor="start" fill="#111" font-weight="bold"  >F</text>
<rect x="72.3" y="670.0" width="87.1" height="135.1" fill="none" stroke="#c4c4c4" stroke-width="0.9" />
<line x1="68.8" y1="805.1" x2="72.3" y2="805.1" stroke="#999" stroke-width="0.9" />
<text x="66.5" y="809.6" font-size="12.5" text-anchor="end" fill="#2a2a2a" font-weight="normal" stroke="#2a2a2a" stroke-width="0.32" >0</text>
<line x1="68.8" y1="771.3" x2="72.3" y2="771.3" stroke="#999" stroke-width="0.9" />
<text x="66.5" y="775.8" font-size="12.5" text-anchor="end" fill="#2a2a2a" font-weight="normal" stroke="#2a2a2a" stroke-width="0.32" >10</text>
<line x1="68.8" y1="737.5" x2="72.3" y2="737.5" stroke="#999" stroke-width="0.9" />
<text x="66.5" y="742.0" font-size="12.5" text-anchor="end" fill="#2a2a2a" font-weight="normal" stroke="#2a2a2a" stroke-width="0.32" >20</text>
<line x1="68.8" y1="703.8" x2="72.3" y2="703.8" stroke="#999" stroke-width="0.9" />
<text x="66.5" y="708.3" font-size="12.5" text-anchor="end" fill="#2a2a2a" font-weight="normal" stroke="#2a2a2a" stroke-width="0.32" >30</text>
<line x1="68.8" y1="670.0" x2="72.3" y2="670.0" stroke="#999" stroke-width="0.9" />
<text x="66.5" y="674.5" font-size="12.5" text-anchor="end" fill="#2a2a2a" font-weight="normal" stroke="#2a2a2a" stroke-width="0.32" >40</text>
<line x1="70.2" y1="788.2" x2="72.3" y2="788.2" stroke="#999" stroke-width="0.8" />
<line x1="70.2" y1="754.4" x2="72.3" y2="754.4" stroke="#999" stroke-width="0.8" />
<line x1="70.2" y1="720.7" x2="72.3" y2="720.7" stroke="#999" stroke-width="0.8" />
<line x1="70.2" y1="686.9" x2="72.3" y2="686.9" stroke="#999" stroke-width="0.8" />
<text transform="translate(39.6,744.5) rotate(-90)" font-size="11.5" text-anchor="middle" fill="#2a2a2a" stroke="#2a2a2a" stroke-width="0.32">Endometrial gland numbers (n)</text>
<rect x="84.8" y="739.2" width="24.9" height="65.9" fill="#a4b9cf" stroke="none" stroke-width="1" />
<rect x="122.1" y="725.7" width="24.4" height="79.4" fill="#c97e6f" stroke="none" stroke-width="1" />
<line x1="97.2" y1="765.6" x2="97.2" y2="712.9" stroke="#666" stroke-width="0.9" />
<line x1="94.2" y1="712.9" x2="100.2" y2="712.9" stroke="#666" stroke-width="0.9" />
<line x1="94.2" y1="765.6" x2="100.2" y2="765.6" stroke="#666" stroke-width="0.9" />
<line x1="134.3" y1="747.0" x2="134.3" y2="704.5" stroke="#666" stroke-width="0.9" />
<line x1="131.3" y1="704.5" x2="137.3" y2="704.5" stroke="#666" stroke-width="0.9" />
<line x1="131.3" y1="747.0" x2="137.3" y2="747.0" stroke="#666" stroke-width="0.9" />
<line x1="97.2" y1="805.1" x2="97.2" y2="808.0" stroke="#999" stroke-width="0.8" />
<line x1="134.3" y1="805.1" x2="134.3" y2="808.0" stroke="#999" stroke-width="0.8" />
<text transform="translate(104,818) rotate(-30)" font-size="11.5" text-anchor="end" fill="#2b2b2b" stroke="#2b2b2b" stroke-width="0.32">Control</text>
<text transform="translate(145.5,815) rotate(-30)" font-size="11.5" text-anchor="end" fill="#2b2b2b" stroke="#2b2b2b" stroke-width="0.32">CervPlug</text>
<text x="15.6" y="861.7" font-size="16.5" text-anchor="start" fill="#111" font-weight="bold"  >I</text>
<rect x="74.7" y="865.5" width="157.7" height="160.7" fill="none" stroke="#c6c6c6" stroke-width="0.9" />
<line x1="71.2" y1="1026.2" x2="74.7" y2="1026.2" stroke="#999" stroke-width="0.9" />
<text x="68.5" y="1030.7" font-size="12.5" text-anchor="end" fill="#2a2a2a" font-weight="normal" stroke="#2a2a2a" stroke-width="0.32" >0.0</text>
<line x1="71.2" y1="986.0" x2="74.7" y2="986.0" stroke="#999" stroke-width="0.9" />
<text x="68.5" y="990.5" font-size="12.5" text-anchor="end" fill="#2a2a2a" font-weight="normal" stroke="#2a2a2a" stroke-width="0.32" >0.5</text>
<line x1="71.2" y1="945.9" x2="74.7" y2="945.9" stroke="#999" stroke-width="0.9" />
<text x="68.5" y="950.4" font-size="12.5" text-anchor="end" fill="#2a2a2a" font-weight="normal" stroke="#2a2a2a" stroke-width="0.32" >1.0</text>
<line x1="71.2" y1="905.7" x2="74.7" y2="905.7" stroke="#999" stroke-width="0.9" />
<text x="68.5" y="910.2" font-size="12.5" text-anchor="end" fill="#2a2a2a" font-weight="normal" stroke="#2a2a2a" stroke-width="0.32" >1.5</text>
<line x1="71.2" y1="865.5" x2="74.7" y2="865.5" stroke="#999" stroke-width="0.9" />
<text x="68.5" y="870.0" font-size="12.5" text-anchor="end" fill="#2a2a2a" font-weight="normal" stroke="#2a2a2a" stroke-width="0.32" >2.0</text>
<line x1="72.6" y1="1006.1" x2="74.7" y2="1006.1" stroke="#999" stroke-width="0.8" />
<line x1="72.6" y1="965.9" x2="74.7" y2="965.9" stroke="#999" stroke-width="0.8" />
<line x1="72.6" y1="925.8" x2="74.7" y2="925.8" stroke="#999" stroke-width="0.8" />
<line x1="72.6" y1="885.6" x2="74.7" y2="885.6" stroke="#999" stroke-width="0.8" />
<text transform="translate(40.0,941.6) rotate(-90)" font-size="11.5" text-anchor="middle" fill="#2a2a2a" stroke="#2a2a2a" stroke-width="0.32">Relative mRNA expression</text>
<rect x="83.6" y="973.2" width="16.7" height="53.0" fill="#a4b9cf" stroke="none" stroke-width="1" />
<rect x="101.8" y="941.8" width="16.4" height="84.4" fill="#c97e6f" stroke="none" stroke-width="1" />
<rect x="136.4" y="945.0" width="16.5" height="81.2" fill="#a4b9cf" stroke="none" stroke-width="1" />
<rect x="153.8" y="919.3" width="16.4" height="106.9" fill="#c97e6f" stroke="none" stroke-width="1" />
<rect x="189.0" y="997.3" width="16.5" height="28.9" fill="#a4b9cf" stroke="none" stroke-width="1" />
<rect x="206.4" y="945.9" width="16.7" height="80.4" fill="#c97e6f" stroke="none" stroke-width="1" />
<line x1="91.9" y1="982.0" x2="91.9" y2="965.1" stroke="#555" stroke-width="0.8" />
<line x1="89.9" y1="965.1" x2="93.9" y2="965.1" stroke="#555" stroke-width="0.8" />
<line x1="89.9" y1="982.0" x2="93.9" y2="982.0" stroke="#555" stroke-width="0.8" />
<circle cx="91.9" cy="981.2" r="1.6" fill="none" stroke="#7d8fa6" stroke-width="0.8" />
<circle cx="91.9" cy="970.0" r="1.6" fill="none" stroke="#7d8fa6" stroke-width="0.8" />
<circle cx="91.9" cy="965.1" r="1.6" fill="none" stroke="#7d8fa6" stroke-width="0.8" />
<line x1="110.0" y1="973.2" x2="110.0" y2="908.9" stroke="#555" stroke-width="0.8" />
<line x1="108.0" y1="908.9" x2="112.0" y2="908.9" stroke="#555" stroke-width="0.8" />
<line x1="108.0" y1="973.2" x2="112.0" y2="973.2" stroke="#555" stroke-width="0.8" />
<circle cx="110.0" cy="969.2" r="1.6" fill="none" stroke="#9a4a44" stroke-width="0.8" />
<circle cx="110.0" cy="950.7" r="1.6" fill="none" stroke="#9a4a44" stroke-width="0.8" />
<circle cx="110.0" cy="907.3" r="1.6" fill="none" stroke="#9a4a44" stroke-width="0.8" />
<line x1="144.7" y1="957.1" x2="144.7" y2="933.0" stroke="#555" stroke-width="0.8" />
<line x1="142.7" y1="933.0" x2="146.7" y2="933.0" stroke="#555" stroke-width="0.8" />
<line x1="142.7" y1="957.1" x2="146.7" y2="957.1" stroke="#555" stroke-width="0.8" />
<circle cx="144.7" cy="957.1" r="1.6" fill="none" stroke="#7d8fa6" stroke-width="0.8" />
<circle cx="144.7" cy="945.9" r="1.6" fill="none" stroke="#7d8fa6" stroke-width="0.8" />
<circle cx="144.7" cy="933.0" r="1.6" fill="none" stroke="#7d8fa6" stroke-width="0.8" />
<line x1="162.0" y1="921.7" x2="162.0" y2="915.3" stroke="#555" stroke-width="0.8" />
<line x1="160.0" y1="915.3" x2="164.0" y2="915.3" stroke="#555" stroke-width="0.8" />
<line x1="160.0" y1="921.7" x2="164.0" y2="921.7" stroke="#555" stroke-width="0.8" />
<circle cx="158.0" cy="920.1" r="1.6" fill="#9a4a44" stroke="#9a4a44" stroke-width="0.8" />
<circle cx="162.0" cy="919.3" r="1.6" fill="none" stroke="#9a4a44" stroke-width="0.8" />
<circle cx="166.0" cy="919.3" r="1.6" fill="#9a4a44" stroke="#9a4a44" stroke-width="0.8" />
<circle cx="162.0" cy="913.7" r="1.6" fill="none" stroke="#9a4a44" stroke-width="0.8" />
<circle cx="192.2" cy="997.7" r="1.6" fill="#7d8fa6" stroke="#7d8fa6" stroke-width="0.8" />
<circle cx="197.2" cy="996.5" r="1.6" fill="none" stroke="#7d8fa6" stroke-width="0.8" />
<circle cx="202.2" cy="997.3" r="1.6" fill="#7d8fa6" stroke="#7d8fa6" stroke-width="0.8" />
<line x1="214.8" y1="949.1" x2="214.8" y2="939.4" stroke="#555" stroke-width="0.8" />
<line x1="212.8" y1="939.4" x2="216.8" y2="939.4" stroke="#555" stroke-width="0.8" />
<line x1="212.8" y1="949.1" x2="216.8" y2="949.1" stroke="#555" stroke-width="0.8" />
<circle cx="209.8" cy="947.5" r="1.6" fill="#9a4a44" stroke="#9a4a44" stroke-width="0.8" />
<circle cx="214.8" cy="948.3" r="1.6" fill="none" stroke="#9a4a44" stroke-width="0.8" />
<circle cx="219.8" cy="946.7" r="1.6" fill="#9a4a44" stroke="#9a4a44" stroke-width="0.8" />
<circle cx="214.8" cy="937.8" r="1.6" fill="none" stroke="#9a4a44" stroke-width="0.8" />
<rect x="73.9" y="853.5" width="7.2" height="7.2" fill="#a4b9cf" stroke="none" stroke-width="1" />
<text x="89.0" y="861.0" font-size="11.4" text-anchor="start" fill="#2a2a2a" font-weight="normal" stroke="#2a2a2a" stroke-width="0.32" >Control</text>
<rect x="148.0" y="853.5" width="7.2" height="7.2" fill="#c97e6f" stroke="none" stroke-width="1" />
<text x="166.1" y="861.0" font-size="11.4" text-anchor="start" fill="#2a2a2a" font-weight="normal" stroke="#2a2a2a" stroke-width="0.32" >CervPlug</text>
<text transform="translate(102.5,1041.7) rotate(-30)" font-size="11.5" text-anchor="end" fill="#2b2b2b" stroke="#2b2b2b" stroke-width="0.32">OCT4</text>
<text transform="translate(157.0,1041.7) rotate(-30)" font-size="11.5" text-anchor="end" fill="#2b2b2b" stroke="#2b2b2b" stroke-width="0.32">GATA4</text>
<text transform="translate(215.0,1041.7) rotate(-30)" font-size="11.5" text-anchor="end" fill="#2b2b2b" stroke="#2b2b2b" stroke-width="0.32">HIF-1α</text>
<line x1="101.0" y1="1026.2" x2="101.0" y2="1029.2" stroke="#999" stroke-width="0.8" />
<line x1="153.4" y1="1026.2" x2="153.4" y2="1029.2" stroke="#999" stroke-width="0.8" />
<line x1="205.9" y1="1026.2" x2="205.9" y2="1029.2" stroke="#999" stroke-width="0.8" />
<line x1="200.0" y1="926.5" x2="212.0" y2="926.5" stroke="#666" stroke-width="0.8" />
<text x="206.0" y="924.3" font-size="8" text-anchor="middle" fill="#555" font-weight="normal" stroke="#555" stroke-width="0.32" >**</text>
<text x="252.9" y="861.8" font-size="16.5" text-anchor="start" fill="#111" font-weight="bold"  >J</text>
<rect x="317.4" y="864.5" width="184.9" height="160.2" fill="none" stroke="#c6c6c6" stroke-width="0.9" />
<line x1="313.9" y1="1024.7" x2="317.4" y2="1024.7" stroke="#999" stroke-width="0.9" />
<text x="308.4" y="1029.2" font-size="12.5" text-anchor="end" fill="#2a2a2a" font-weight="normal" stroke="#2a2a2a" stroke-width="0.32" >0.0</text>
<line x1="313.9" y1="984.7" x2="317.4" y2="984.7" stroke="#999" stroke-width="0.9" />
<text x="308.4" y="989.2" font-size="12.5" text-anchor="end" fill="#2a2a2a" font-weight="normal" stroke="#2a2a2a" stroke-width="0.32" >1.0</text>
<line x1="313.9" y1="944.6" x2="317.4" y2="944.6" stroke="#999" stroke-width="0.9" />
<text x="308.4" y="949.1" font-size="12.5" text-anchor="end" fill="#2a2a2a" font-weight="normal" stroke="#2a2a2a" stroke-width="0.32" >2.0</text>
<line x1="313.9" y1="904.5" x2="317.4" y2="904.5" stroke="#999" stroke-width="0.9" />
<text x="308.4" y="909.0" font-size="12.5" text-anchor="end" fill="#2a2a2a" font-weight="normal" stroke="#2a2a2a" stroke-width="0.32" >3.0</text>
<line x1="313.9" y1="864.5" x2="317.4" y2="864.5" stroke="#999" stroke-width="0.9" />
<text x="308.4" y="869.0" font-size="12.5" text-anchor="end" fill="#2a2a2a" font-weight="normal" stroke="#2a2a2a" stroke-width="0.32" >4.0</text>
<line x1="315.3" y1="1004.7" x2="317.4" y2="1004.7" stroke="#999" stroke-width="0.8" />
<line x1="315.3" y1="964.6" x2="317.4" y2="964.6" stroke="#999" stroke-width="0.8" />
<line x1="315.3" y1="924.6" x2="317.4" y2="924.6" stroke="#999" stroke-width="0.8" />
<line x1="315.3" y1="884.5" x2="317.4" y2="884.5" stroke="#999" stroke-width="0.8" />
<text transform="translate(273.6,939.4) rotate(-90)" font-size="11.5" text-anchor="middle" fill="#2a2a2a" stroke="#2a2a2a" stroke-width="0.32">Relative mRNA expression</text>
<rect x="323.1" y="985.5" width="12.1" height="39.2" fill="#a4b9cf" stroke="none" stroke-width="1" />
<rect x="335.8" y="936.6" width="11.9" height="88.1" fill="#c97e6f" stroke="none" stroke-width="1" />
<rect x="360.1" y="985.1" width="11.6" height="39.6" fill="#a4b9cf" stroke="none" stroke-width="1" />
<rect x="372.8" y="983.4" width="11.9" height="41.3" fill="#c97e6f" stroke="none" stroke-width="1" />
<rect x="397.4" y="984.7" width="11.6" height="40.0" fill="#a4b9cf" stroke="none" stroke-width="1" />
<rect x="409.8" y="915.8" width="11.6" height="108.9" fill="#c97e6f" stroke="none" stroke-width="1" />
<rect x="434.6" y="978.2" width="12.2" height="46.5" fill="#a4b9cf" stroke="none" stroke-width="1" />
<rect x="447.4" y="893.3" width="11.6" height="131.4" fill="#c97e6f" stroke="none" stroke-width="1" />
<rect x="472.0" y="985.5" width="11.5" height="39.2" fill="#a4b9cf" stroke="none" stroke-width="1" />
<rect x="484.3" y="915.8" width="12.2" height="108.9" fill="#c97e6f" stroke="none" stroke-width="1" />
<line x1="329.1" y1="987.5" x2="329.1" y2="983.4" stroke="#555" stroke-width="0.8" />
<line x1="327.1" y1="983.4" x2="331.1" y2="983.4" stroke="#555" stroke-width="0.8" />
<line x1="327.1" y1="987.5" x2="331.1" y2="987.5" stroke="#555" stroke-width="0.8" />
<circle cx="326.1" cy="985.9" r="1.6" fill="#7d8fa6" stroke="#7d8fa6" stroke-width="0.8" />
<circle cx="329.1" cy="980.6" r="1.6" fill="none" stroke="#7d8fa6" stroke-width="0.8" />
<circle cx="332.1" cy="985.5" r="1.6" fill="#7d8fa6" stroke="#7d8fa6" stroke-width="0.8" />
<line x1="341.8" y1="939.8" x2="341.8" y2="932.6" stroke="#555" stroke-width="0.8" />
<line x1="339.8" y1="932.6" x2="343.8" y2="932.6" stroke="#555" stroke-width="0.8" />
<line x1="339.8" y1="939.8" x2="343.8" y2="939.8" stroke="#555" stroke-width="0.8" />
<circle cx="338.8" cy="932.6" r="1.6" fill="#9a4a44" stroke="#9a4a44" stroke-width="0.8" />
<circle cx="341.8" cy="938.6" r="1.6" fill="none" stroke="#9a4a44" stroke-width="0.8" />
<circle cx="345.8" cy="932.6" r="1.6" fill="#9a4a44" stroke="#9a4a44" stroke-width="0.8" />
<line x1="365.9" y1="985.9" x2="365.9" y2="983.4" stroke="#555" stroke-width="0.8" />
<line x1="363.9" y1="983.4" x2="367.9" y2="983.4" stroke="#555" stroke-width="0.8" />
<line x1="363.9" y1="985.9" x2="367.9" y2="985.9" stroke="#555" stroke-width="0.8" />
<circle cx="362.9" cy="985.5" r="1.6" fill="#7d8fa6" stroke="#7d8fa6" stroke-width="0.8" />
<circle cx="365.9" cy="983.0" r="1.6" fill="none" stroke="#7d8fa6" stroke-width="0.8" />
<circle cx="368.9" cy="984.7" r="1.6" fill="#7d8fa6" stroke="#7d8fa6" stroke-width="0.8" />
<line x1="378.8" y1="990.7" x2="378.8" y2="974.6" stroke="#555" stroke-width="0.8" />
<line x1="376.8" y1="974.6" x2="380.8" y2="974.6" stroke="#555" stroke-width="0.8" />
<line x1="376.8" y1="990.7" x2="380.8" y2="990.7" stroke="#555" stroke-width="0.8" />
<circle cx="378.8" cy="990.7" r="1.6" fill="none" stroke="#9a4a44" stroke-width="0.8" />
<circle cx="378.8" cy="976.6" r="1.6" fill="none" stroke="#9a4a44" stroke-width="0.8" />
<circle cx="382.8" cy="976.6" r="1.6" fill="#9a4a44" stroke="#9a4a44" stroke-width="0.8" />
<line x1="403.2" y1="990.7" x2="403.2" y2="978.6" stroke="#555" stroke-width="0.8" />
<line x1="401.2" y1="978.6" x2="405.2" y2="978.6" stroke="#555" stroke-width="0.8" />
<line x1="401.2" y1="990.7" x2="405.2" y2="990.7" stroke="#555" stroke-width="0.8" />
<circle cx="403.2" cy="990.3" r="1.6" fill="none" stroke="#7d8fa6" stroke-width="0.8" />
<circle cx="403.2" cy="984.7" r="1.6" fill="none" stroke="#7d8fa6" stroke-width="0.8" />
<circle cx="403.2" cy="978.6" r="1.6" fill="none" stroke="#7d8fa6" stroke-width="0.8" />
<line x1="415.6" y1="930.6" x2="415.6" y2="902.5" stroke="#555" stroke-width="0.8" />
<line x1="413.6" y1="902.5" x2="417.6" y2="902.5" stroke="#555" stroke-width="0.8" />
<line x1="413.6" y1="930.6" x2="417.6" y2="930.6" stroke="#555" stroke-width="0.8" />
<circle cx="415.6" cy="930.6" r="1.6" fill="none" stroke="#9a4a44" stroke-width="0.8" />
<circle cx="415.6" cy="908.6" r="1.6" fill="none" stroke="#9a4a44" stroke-width="0.8" />
<circle cx="415.6" cy="904.5" r="1.6" fill="none" stroke="#9a4a44" stroke-width="0.8" />
<line x1="440.7" y1="1006.7" x2="440.7" y2="950.6" stroke="#555" stroke-width="0.8" />
<line x1="438.7" y1="950.6" x2="442.7" y2="950.6" stroke="#555" stroke-width="0.8" />
<line x1="438.7" y1="1006.7" x2="442.7" y2="1006.7" stroke="#555" stroke-width="0.8" />
<circle cx="440.7" cy="1006.7" r="1.6" fill="none" stroke="#7d8fa6" stroke-width="0.8" />
<circle cx="440.7" cy="972.6" r="1.6" fill="none" stroke="#7d8fa6" stroke-width="0.8" />
<circle cx="440.7" cy="952.6" r="1.6" fill="none" stroke="#7d8fa6" stroke-width="0.8" />
<line x1="453.2" y1="904.5" x2="453.2" y2="872.5" stroke="#555" stroke-width="0.8" />
<line x1="451.2" y1="872.5" x2="455.2" y2="872.5" stroke="#555" stroke-width="0.8" />
<line x1="451.2" y1="904.5" x2="455.2" y2="904.5" stroke="#555" stroke-width="0.8" />
<circle cx="453.2" cy="902.5" r="1.6" fill="none" stroke="#9a4a44" stroke-width="0.8" />
<circle cx="453.2" cy="896.5" r="1.6" fill="none" stroke="#9a4a44" stroke-width="0.8" />
<circle cx="453.2" cy="872.5" r="1.6" fill="none" stroke="#9a4a44" stroke-width="0.8" />
<line x1="477.8" y1="988.7" x2="477.8" y2="981.4" stroke="#555" stroke-width="0.8" />
<line x1="475.8" y1="981.4" x2="479.8" y2="981.4" stroke="#555" stroke-width="0.8" />
<line x1="475.8" y1="988.7" x2="479.8" y2="988.7" stroke="#555" stroke-width="0.8" />
<circle cx="473.8" cy="981.8" r="1.6" fill="#7d8fa6" stroke="#7d8fa6" stroke-width="0.8" />
<circle cx="477.8" cy="986.7" r="1.6" fill="none" stroke="#7d8fa6" stroke-width="0.8" />
<circle cx="481.8" cy="982.6" r="1.6" fill="#7d8fa6" stroke="#7d8fa6" stroke-width="0.8" />
<line x1="490.4" y1="936.6" x2="490.4" y2="894.5" stroke="#555" stroke-width="0.8" />
<line x1="488.4" y1="894.5" x2="492.4" y2="894.5" stroke="#555" stroke-width="0.8" />
<line x1="488.4" y1="936.6" x2="492.4" y2="936.6" stroke="#555" stroke-width="0.8" />
<circle cx="490.4" cy="934.6" r="1.6" fill="none" stroke="#9a4a44" stroke-width="0.8" />
<circle cx="490.4" cy="915.8" r="1.6" fill="none" stroke="#9a4a44" stroke-width="0.8" />
<circle cx="490.4" cy="894.5" r="1.6" fill="none" stroke="#9a4a44" stroke-width="0.8" />
<rect x="328.8" y="853.6" width="7.2" height="7.2" fill="#a4b9cf" stroke="none" stroke-width="1" />
<text x="343.9" y="861.1" font-size="11.4" text-anchor="start" fill="#2a2a2a" font-weight="normal" stroke="#2a2a2a" stroke-width="0.32" >Control</text>
<rect x="422.8" y="853.6" width="7.2" height="7.2" fill="#c97e6f" stroke="none" stroke-width="1" />
<text x="440.9" y="861.1" font-size="11.4" text-anchor="start" fill="#2a2a2a" font-weight="normal" stroke="#2a2a2a" stroke-width="0.32" >CervPlug</text>
<text transform="translate(341.0,1040.2) rotate(-30)" font-size="11.5" text-anchor="end" fill="#2b2b2b" stroke="#2b2b2b" stroke-width="0.32">IL-4</text>
<text transform="translate(378.0,1040.2) rotate(-30)" font-size="11.5" text-anchor="end" fill="#2b2b2b" stroke="#2b2b2b" stroke-width="0.32">IL-10</text>
<text transform="translate(414.0,1040.2) rotate(-30)" font-size="11.5" text-anchor="end" fill="#2b2b2b" stroke="#2b2b2b" stroke-width="0.32">INF-α</text>
<text transform="translate(452.0,1040.2) rotate(-30)" font-size="11.5" text-anchor="end" fill="#2b2b2b" stroke="#2b2b2b" stroke-width="0.32">CXCL-10</text>
<text transform="translate(490.0,1040.2) rotate(-30)" font-size="11.5" text-anchor="end" fill="#2b2b2b" stroke="#2b2b2b" stroke-width="0.32">iNOS</text>
<line x1="335.5" y1="1024.7" x2="335.5" y2="1027.7" stroke="#999" stroke-width="0.8" />
<line x1="372.2" y1="1024.7" x2="372.2" y2="1027.7" stroke="#999" stroke-width="0.8" />
<line x1="409.4" y1="1024.7" x2="409.4" y2="1027.7" stroke="#999" stroke-width="0.8" />
<line x1="447.1" y1="1024.7" x2="447.1" y2="1027.7" stroke="#999" stroke-width="0.8" />
<line x1="483.9" y1="1024.7" x2="483.9" y2="1027.7" stroke="#999" stroke-width="0.8" />
<line x1="326.6" y1="922.1" x2="341.0" y2="922.1" stroke="#666" stroke-width="0.8" />
<text x="333.8" y="919.9" font-size="8" text-anchor="middle" fill="#555" font-weight="normal" stroke="#555" stroke-width="0.32" >**</text>
<line x1="400.5" y1="889.8" x2="415.0" y2="889.8" stroke="#666" stroke-width="0.8" />
<text x="407.8" y="887.6" font-size="8" text-anchor="middle" fill="#555" font-weight="normal" stroke="#555" stroke-width="0.32" >*</text>
<line x1="474.8" y1="887.5" x2="489.3" y2="887.5" stroke="#666" stroke-width="0.8" />
<text x="482.1" y="885.3" font-size="8" text-anchor="middle" fill="#555" font-weight="normal" stroke="#555" stroke-width="0.32" >*</text>
<text x="542.9" y="858.0" font-size="16.5" text-anchor="start" fill="#111" font-weight="bold"  >K</text>
<rect x="604.0" y="866.0" width="179.0" height="160.1" fill="none" stroke="#c6c6c6" stroke-width="0.9" />
<line x1="600.5" y1="1026.1" x2="604.0" y2="1026.1" stroke="#999" stroke-width="0.9" />
<text x="598.5" y="1030.6" font-size="12.5" text-anchor="end" fill="#2a2a2a" font-weight="normal" stroke="#2a2a2a" stroke-width="0.32" >0.0</text>
<line x1="600.5" y1="972.7" x2="604.0" y2="972.7" stroke="#999" stroke-width="0.9" />
<text x="598.5" y="977.2" font-size="12.5" text-anchor="end" fill="#2a2a2a" font-weight="normal" stroke="#2a2a2a" stroke-width="0.32" >0.5</text>
<line x1="600.5" y1="919.4" x2="604.0" y2="919.4" stroke="#999" stroke-width="0.9" />
<text x="598.5" y="923.9" font-size="12.5" text-anchor="end" fill="#2a2a2a" font-weight="normal" stroke="#2a2a2a" stroke-width="0.32" >1.0</text>
<line x1="600.5" y1="866.0" x2="604.0" y2="866.0" stroke="#999" stroke-width="0.9" />
<text x="598.5" y="870.5" font-size="12.5" text-anchor="end" fill="#2a2a2a" font-weight="normal" stroke="#2a2a2a" stroke-width="0.32" >1.5</text>
<line x1="601.9" y1="999.4" x2="604.0" y2="999.4" stroke="#999" stroke-width="0.8" />
<line x1="601.9" y1="946.0" x2="604.0" y2="946.0" stroke="#999" stroke-width="0.8" />
<line x1="601.9" y1="892.7" x2="604.0" y2="892.7" stroke="#999" stroke-width="0.8" />
<text transform="translate(565.5,943.0) rotate(-90)" font-size="11.5" text-anchor="middle" fill="#2a2a2a" stroke="#2a2a2a" stroke-width="0.32">Relative mRNA expression</text>
<rect x="611.2" y="919.4" width="14.9" height="106.7" fill="#a4b9cf" stroke="none" stroke-width="1" />
<rect x="627.0" y="957.3" width="14.3" height="68.8" fill="#c97e6f" stroke="none" stroke-width="1" />
<rect x="656.0" y="919.4" width="14.4" height="106.7" fill="#a4b9cf" stroke="none" stroke-width="1" />
<rect x="671.5" y="923.6" width="14.3" height="102.5" fill="#c97e6f" stroke="none" stroke-width="1" />
<rect x="700.8" y="918.3" width="14.3" height="107.8" fill="#a4b9cf" stroke="none" stroke-width="1" />
<rect x="716.2" y="958.9" width="13.8" height="67.2" fill="#c97e6f" stroke="none" stroke-width="1" />
<rect x="745.5" y="918.3" width="14.1" height="107.8" fill="#a4b9cf" stroke="none" stroke-width="1" />
<rect x="761.0" y="985.0" width="14.4" height="41.1" fill="#c97e6f" stroke="none" stroke-width="1" />
<line x1="618.7" y1="932.2" x2="618.7" y2="906.6" stroke="#555" stroke-width="0.8" />
<line x1="616.7" y1="906.6" x2="620.7" y2="906.6" stroke="#555" stroke-width="0.8" />
<line x1="616.7" y1="932.2" x2="620.7" y2="932.2" stroke="#555" stroke-width="0.8" />
<circle cx="618.7" cy="930.0" r="1.6" fill="none" stroke="#7d8fa6" stroke-width="0.8" />
<circle cx="618.7" cy="921.5" r="1.6" fill="none" stroke="#7d8fa6" stroke-width="0.8" />
<circle cx="618.7" cy="906.6" r="1.6" fill="none" stroke="#7d8fa6" stroke-width="0.8" />
<line x1="634.1" y1="959.9" x2="634.1" y2="954.6" stroke="#555" stroke-width="0.8" />
<line x1="632.1" y1="954.6" x2="636.1" y2="954.6" stroke="#555" stroke-width="0.8" />
<line x1="632.1" y1="959.9" x2="636.1" y2="959.9" stroke="#555" stroke-width="0.8" />
<circle cx="629.1" cy="955.7" r="1.6" fill="#9a4a44" stroke="#9a4a44" stroke-width="0.8" />
<circle cx="634.1" cy="959.9" r="1.6" fill="none" stroke="#9a4a44" stroke-width="0.8" />
<circle cx="639.1" cy="955.7" r="1.6" fill="#9a4a44" stroke="#9a4a44" stroke-width="0.8" />
<line x1="663.2" y1="921.5" x2="663.2" y2="917.2" stroke="#555" stroke-width="0.8" />
<line x1="661.2" y1="917.2" x2="665.2" y2="917.2" stroke="#555" stroke-width="0.8" />
<line x1="661.2" y1="921.5" x2="665.2" y2="921.5" stroke="#555" stroke-width="0.8" />
<circle cx="660.2" cy="921.5" r="1.6" fill="#7d8fa6" stroke="#7d8fa6" stroke-width="0.8" />
<circle cx="663.2" cy="917.2" r="1.6" fill="none" stroke="#7d8fa6" stroke-width="0.8" />
<circle cx="667.2" cy="917.2" r="1.6" fill="#7d8fa6" stroke="#7d8fa6" stroke-width="0.8" />
<line x1="678.6" y1="949.3" x2="678.6" y2="899.1" stroke="#555" stroke-width="0.8" />
<line x1="676.6" y1="899.1" x2="680.6" y2="899.1" stroke="#555" stroke-width="0.8" />
<line x1="676.6" y1="949.3" x2="680.6" y2="949.3" stroke="#555" stroke-width="0.8" />
<circle cx="678.6" cy="949.3" r="1.6" fill="none" stroke="#9a4a44" stroke-width="0.8" />
<circle cx="678.6" cy="911.9" r="1.6" fill="none" stroke="#9a4a44" stroke-width="0.8" />
<circle cx="678.6" cy="905.5" r="1.6" fill="none" stroke="#9a4a44" stroke-width="0.8" />
<line x1="708.0" y1="940.7" x2="708.0" y2="891.6" stroke="#555" stroke-width="0.8" />
<line x1="706.0" y1="891.6" x2="710.0" y2="891.6" stroke="#555" stroke-width="0.8" />
<line x1="706.0" y1="940.7" x2="710.0" y2="940.7" stroke="#555" stroke-width="0.8" />
<circle cx="708.0" cy="940.7" r="1.6" fill="none" stroke="#7d8fa6" stroke-width="0.8" />
<circle cx="708.0" cy="927.9" r="1.6" fill="none" stroke="#7d8fa6" stroke-width="0.8" />
<circle cx="708.0" cy="891.6" r="1.6" fill="none" stroke="#7d8fa6" stroke-width="0.8" />
<line x1="723.1" y1="965.3" x2="723.1" y2="952.5" stroke="#555" stroke-width="0.8" />
<line x1="721.1" y1="952.5" x2="725.1" y2="952.5" stroke="#555" stroke-width="0.8" />
<line x1="721.1" y1="965.3" x2="725.1" y2="965.3" stroke="#555" stroke-width="0.8" />
<circle cx="718.1" cy="955.7" r="1.6" fill="#9a4a44" stroke="#9a4a44" stroke-width="0.8" />
<circle cx="723.1" cy="962.1" r="1.6" fill="none" stroke="#9a4a44" stroke-width="0.8" />
<circle cx="727.1" cy="955.7" r="1.6" fill="#9a4a44" stroke="#9a4a44" stroke-width="0.8" />
<line x1="752.5" y1="933.2" x2="752.5" y2="901.2" stroke="#555" stroke-width="0.8" />
<line x1="750.5" y1="901.2" x2="754.5" y2="901.2" stroke="#555" stroke-width="0.8" />
<line x1="750.5" y1="933.2" x2="754.5" y2="933.2" stroke="#555" stroke-width="0.8" />
<circle cx="752.5" cy="933.2" r="1.6" fill="none" stroke="#7d8fa6" stroke-width="0.8" />
<circle cx="752.5" cy="921.5" r="1.6" fill="none" stroke="#7d8fa6" stroke-width="0.8" />
<circle cx="752.5" cy="901.2" r="1.6" fill="none" stroke="#7d8fa6" stroke-width="0.8" />
<line x1="768.2" y1="987.7" x2="768.2" y2="982.3" stroke="#555" stroke-width="0.8" />
<line x1="766.2" y1="982.3" x2="770.2" y2="982.3" stroke="#555" stroke-width="0.8" />
<line x1="766.2" y1="987.7" x2="770.2" y2="987.7" stroke="#555" stroke-width="0.8" />
<circle cx="764.2" cy="986.6" r="1.6" fill="#9a4a44" stroke="#9a4a44" stroke-width="0.8" />
<circle cx="768.2" cy="984.5" r="1.6" fill="none" stroke="#9a4a44" stroke-width="0.8" />
<circle cx="773.2" cy="982.3" r="1.6" fill="#9a4a44" stroke="#9a4a44" stroke-width="0.8" />
<rect x="616.4" y="854.6" width="7.2" height="7.2" fill="#a4b9cf" stroke="none" stroke-width="1" />
<text x="631.5" y="862.1" font-size="11.4" text-anchor="start" fill="#2a2a2a" font-weight="normal" stroke="#2a2a2a" stroke-width="0.32" >Control</text>
<rect x="692.0" y="854.6" width="7.2" height="7.2" fill="#c97e6f" stroke="none" stroke-width="1" />
<text x="710.1" y="862.1" font-size="11.4" text-anchor="start" fill="#2a2a2a" font-weight="normal" stroke="#2a2a2a" stroke-width="0.32" >CervPlug</text>
<text transform="translate(635.0,1041.6) rotate(-30)" font-size="11.5" text-anchor="end" fill="#2b2b2b" stroke="#2b2b2b" stroke-width="0.32">TNF-α</text>
<text transform="translate(673.0,1041.6) rotate(-30)" font-size="11.5" text-anchor="end" fill="#2b2b2b" stroke="#2b2b2b" stroke-width="0.32">IL-6</text>
<text transform="translate(717.0,1041.6) rotate(-30)" font-size="11.5" text-anchor="end" fill="#2b2b2b" stroke="#2b2b2b" stroke-width="0.32">IL-1β</text>
<text transform="translate(762.0,1041.6) rotate(-30)" font-size="11.5" text-anchor="end" fill="#2b2b2b" stroke="#2b2b2b" stroke-width="0.32">IL-12</text>
<line x1="626.5" y1="1026.1" x2="626.5" y2="1029.1" stroke="#999" stroke-width="0.8" />
<line x1="671.0" y1="1026.1" x2="671.0" y2="1029.1" stroke="#999" stroke-width="0.8" />
<line x1="715.7" y1="1026.1" x2="715.7" y2="1029.1" stroke="#999" stroke-width="0.8" />
<line x1="760.3" y1="1026.1" x2="760.3" y2="1029.1" stroke="#999" stroke-width="0.8" />
<line x1="620.2" y1="891.7" x2="634.3" y2="891.7" stroke="#666" stroke-width="0.8" />
<text x="627.2" y="889.5" font-size="8" text-anchor="middle" fill="#555" font-weight="normal" stroke="#555" stroke-width="0.32" >*</text>
<line x1="754.5" y1="891.7" x2="768.6" y2="891.7" stroke="#666" stroke-width="0.8" />
<text x="761.5" y="889.5" font-size="8" text-anchor="middle" fill="#555" font-weight="normal" stroke="#555" stroke-width="0.32" >*</text>
</svg>
</body></html>
